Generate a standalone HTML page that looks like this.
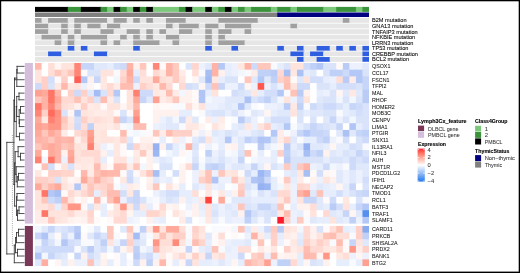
<!DOCTYPE html><html><head><meta charset="utf-8"><style>html,body{margin:0;padding:0;background:#fff;}body{width:520px;height:273px;overflow:hidden;}svg{display:block;}text{font-family:"Liberation Sans",sans-serif;} .tx{filter:grayscale(1);}</style></head><body>
<svg width="520" height="273" viewBox="0 0 520 273">
<rect x="0" y="0" width="520" height="273" fill="#fff"/>
<rect x="35.00" y="63.00" width="7.55" height="7.69" fill="#ffb8ab"/>
<rect x="41.55" y="63.00" width="7.55" height="7.69" fill="#ffffff"/>
<rect x="48.10" y="63.00" width="7.55" height="7.69" fill="#ffded7"/>
<rect x="54.65" y="63.00" width="7.55" height="7.69" fill="#fff6f4"/>
<rect x="61.20" y="63.00" width="7.55" height="7.69" fill="#ffe3dd"/>
<rect x="67.75" y="63.00" width="7.55" height="7.69" fill="#ffe3dd"/>
<rect x="74.29" y="63.00" width="7.55" height="7.69" fill="#ff8677"/>
<rect x="80.84" y="63.00" width="7.55" height="7.69" fill="#c6d5f8"/>
<rect x="87.39" y="63.00" width="7.55" height="7.69" fill="#c6d5f8"/>
<rect x="93.94" y="63.00" width="7.55" height="7.69" fill="#e0e8fb"/>
<rect x="100.49" y="63.00" width="7.55" height="7.69" fill="#e0e8fb"/>
<rect x="107.04" y="63.00" width="7.55" height="7.69" fill="#e6edfc"/>
<rect x="113.59" y="63.00" width="7.55" height="7.69" fill="#d3dffa"/>
<rect x="120.14" y="63.00" width="7.55" height="7.69" fill="#cddaf9"/>
<rect x="126.69" y="63.00" width="7.55" height="7.69" fill="#ffb3a6"/>
<rect x="133.24" y="63.00" width="7.55" height="7.69" fill="#fff1ee"/>
<rect x="139.78" y="63.00" width="7.55" height="7.69" fill="#ffc6bc"/>
<rect x="146.33" y="63.00" width="7.55" height="7.69" fill="#ffffff"/>
<rect x="152.88" y="63.00" width="7.55" height="7.69" fill="#ff8677"/>
<rect x="159.43" y="63.00" width="7.55" height="7.69" fill="#fffaf9"/>
<rect x="165.98" y="63.00" width="7.55" height="7.69" fill="#ffb3a6"/>
<rect x="172.53" y="63.00" width="7.55" height="7.69" fill="#ffcbc1"/>
<rect x="179.08" y="63.00" width="7.55" height="7.69" fill="#ffffff"/>
<rect x="185.63" y="63.00" width="7.55" height="7.69" fill="#d9e3fa"/>
<rect x="192.18" y="63.00" width="7.55" height="7.69" fill="#ffd5cc"/>
<rect x="198.73" y="63.00" width="7.55" height="7.69" fill="#ecf1fd"/>
<rect x="205.27" y="63.00" width="7.55" height="7.69" fill="#e0e8fb"/>
<rect x="211.82" y="63.00" width="7.55" height="7.69" fill="#ffb3a6"/>
<rect x="218.37" y="63.00" width="7.55" height="7.69" fill="#b3c8f6"/>
<rect x="224.92" y="63.00" width="7.55" height="7.69" fill="#e6edfc"/>
<rect x="231.47" y="63.00" width="7.55" height="7.69" fill="#ecf1fd"/>
<rect x="238.02" y="63.00" width="7.55" height="7.69" fill="#ffe8e2"/>
<rect x="244.57" y="63.00" width="7.55" height="7.69" fill="#ffb3a6"/>
<rect x="251.12" y="63.00" width="7.55" height="7.69" fill="#cddaf9"/>
<rect x="257.67" y="63.00" width="7.55" height="7.69" fill="#ffc6bc"/>
<rect x="264.22" y="63.00" width="7.55" height="7.69" fill="#ffc6bc"/>
<rect x="270.76" y="63.00" width="7.55" height="7.69" fill="#f9fafe"/>
<rect x="277.31" y="63.00" width="7.55" height="7.69" fill="#e6edfc"/>
<rect x="283.86" y="63.00" width="7.55" height="7.69" fill="#d9e3fa"/>
<rect x="290.41" y="63.00" width="7.55" height="7.69" fill="#ffe3dd"/>
<rect x="296.96" y="63.00" width="7.55" height="7.69" fill="#ffe3dd"/>
<rect x="303.51" y="63.00" width="7.55" height="7.69" fill="#cddaf9"/>
<rect x="310.06" y="63.00" width="7.55" height="7.69" fill="#c0d1f7"/>
<rect x="316.61" y="63.00" width="7.55" height="7.69" fill="#b3c8f6"/>
<rect x="323.16" y="63.00" width="7.55" height="7.69" fill="#d9e3fa"/>
<rect x="329.71" y="63.00" width="7.55" height="7.69" fill="#d9e3fa"/>
<rect x="336.25" y="63.00" width="7.55" height="7.69" fill="#fffaf9"/>
<rect x="342.80" y="63.00" width="7.55" height="7.69" fill="#baccf6"/>
<rect x="349.35" y="63.00" width="7.55" height="7.69" fill="#ecf1fd"/>
<rect x="355.90" y="63.00" width="7.55" height="7.69" fill="#ecf1fd"/>
<rect x="362.45" y="63.00" width="6.55" height="7.69" fill="#e0e8fb"/>
<rect x="35.00" y="69.69" width="7.55" height="7.69" fill="#ffe3dd"/>
<rect x="41.55" y="69.69" width="7.55" height="7.69" fill="#ffffff"/>
<rect x="48.10" y="69.69" width="7.55" height="7.69" fill="#ffded7"/>
<rect x="54.65" y="69.69" width="7.55" height="7.69" fill="#ffc6bc"/>
<rect x="61.20" y="69.69" width="7.55" height="7.69" fill="#ffd9d2"/>
<rect x="67.75" y="69.69" width="7.55" height="7.69" fill="#ffc6bc"/>
<rect x="74.29" y="69.69" width="7.55" height="7.69" fill="#ff8677"/>
<rect x="80.84" y="69.69" width="7.55" height="7.69" fill="#fffaf9"/>
<rect x="87.39" y="69.69" width="7.55" height="7.69" fill="#d9e3fa"/>
<rect x="93.94" y="69.69" width="7.55" height="7.69" fill="#d9e3fa"/>
<rect x="100.49" y="69.69" width="7.55" height="7.69" fill="#ffe3dd"/>
<rect x="107.04" y="69.69" width="7.55" height="7.69" fill="#ffe3dd"/>
<rect x="113.59" y="69.69" width="7.55" height="7.69" fill="#f9fafe"/>
<rect x="120.14" y="69.69" width="7.55" height="7.69" fill="#ffd9d2"/>
<rect x="126.69" y="69.69" width="7.55" height="7.69" fill="#ffa99b"/>
<rect x="133.24" y="69.69" width="7.55" height="7.69" fill="#e6edfc"/>
<rect x="139.78" y="69.69" width="7.55" height="7.69" fill="#ffded7"/>
<rect x="146.33" y="69.69" width="7.55" height="7.69" fill="#ffffff"/>
<rect x="152.88" y="69.69" width="7.55" height="7.69" fill="#ffd9d2"/>
<rect x="159.43" y="69.69" width="7.55" height="7.69" fill="#ffe8e2"/>
<rect x="165.98" y="69.69" width="7.55" height="7.69" fill="#ffb3a6"/>
<rect x="172.53" y="69.69" width="7.55" height="7.69" fill="#ffcbc1"/>
<rect x="179.08" y="69.69" width="7.55" height="7.69" fill="#ffece8"/>
<rect x="185.63" y="69.69" width="7.55" height="7.69" fill="#ffffff"/>
<rect x="192.18" y="69.69" width="7.55" height="7.69" fill="#ffded7"/>
<rect x="198.73" y="69.69" width="7.55" height="7.69" fill="#f9fafe"/>
<rect x="205.27" y="69.69" width="7.55" height="7.69" fill="#a8bff4"/>
<rect x="211.82" y="69.69" width="7.55" height="7.69" fill="#ffb3a6"/>
<rect x="218.37" y="69.69" width="7.55" height="7.69" fill="#fff1ee"/>
<rect x="224.92" y="69.69" width="7.55" height="7.69" fill="#e6edfc"/>
<rect x="231.47" y="69.69" width="7.55" height="7.69" fill="#ecf1fd"/>
<rect x="238.02" y="69.69" width="7.55" height="7.69" fill="#f2f6fd"/>
<rect x="244.57" y="69.69" width="7.55" height="7.69" fill="#f9fafe"/>
<rect x="251.12" y="69.69" width="7.55" height="7.69" fill="#ffece8"/>
<rect x="257.67" y="69.69" width="7.55" height="7.69" fill="#c0d1f7"/>
<rect x="264.22" y="69.69" width="7.55" height="7.69" fill="#c0d1f7"/>
<rect x="270.76" y="69.69" width="7.55" height="7.69" fill="#baccf6"/>
<rect x="277.31" y="69.69" width="7.55" height="7.69" fill="#ffd9d2"/>
<rect x="283.86" y="69.69" width="7.55" height="7.69" fill="#a8bff4"/>
<rect x="290.41" y="69.69" width="7.55" height="7.69" fill="#ffe8e2"/>
<rect x="296.96" y="69.69" width="7.55" height="7.69" fill="#acc2f5"/>
<rect x="303.51" y="69.69" width="7.55" height="7.69" fill="#e6edfc"/>
<rect x="310.06" y="69.69" width="7.55" height="7.69" fill="#e0e8fb"/>
<rect x="316.61" y="69.69" width="7.55" height="7.69" fill="#ffffff"/>
<rect x="323.16" y="69.69" width="7.55" height="7.69" fill="#d9e3fa"/>
<rect x="329.71" y="69.69" width="7.55" height="7.69" fill="#c0d1f7"/>
<rect x="336.25" y="69.69" width="7.55" height="7.69" fill="#c0d1f7"/>
<rect x="342.80" y="69.69" width="7.55" height="7.69" fill="#cddaf9"/>
<rect x="349.35" y="69.69" width="7.55" height="7.69" fill="#b3c8f6"/>
<rect x="355.90" y="69.69" width="7.55" height="7.69" fill="#b3c8f6"/>
<rect x="362.45" y="69.69" width="6.55" height="7.69" fill="#d9e3fa"/>
<rect x="35.00" y="76.38" width="7.55" height="7.69" fill="#ffe3dd"/>
<rect x="41.55" y="76.38" width="7.55" height="7.69" fill="#ffd0c7"/>
<rect x="48.10" y="76.38" width="7.55" height="7.69" fill="#d3dffa"/>
<rect x="54.65" y="76.38" width="7.55" height="7.69" fill="#fffaf9"/>
<rect x="61.20" y="76.38" width="7.55" height="7.69" fill="#ffd0c7"/>
<rect x="67.75" y="76.38" width="7.55" height="7.69" fill="#ffffff"/>
<rect x="74.29" y="76.38" width="7.55" height="7.69" fill="#ff5f54"/>
<rect x="80.84" y="76.38" width="7.55" height="7.69" fill="#b3c8f6"/>
<rect x="87.39" y="76.38" width="7.55" height="7.69" fill="#fff1ee"/>
<rect x="93.94" y="76.38" width="7.55" height="7.69" fill="#c6d5f8"/>
<rect x="100.49" y="76.38" width="7.55" height="7.69" fill="#ffe8e2"/>
<rect x="107.04" y="76.38" width="7.55" height="7.69" fill="#ffffff"/>
<rect x="113.59" y="76.38" width="7.55" height="7.69" fill="#f2f6fd"/>
<rect x="120.14" y="76.38" width="7.55" height="7.69" fill="#ffd0c7"/>
<rect x="126.69" y="76.38" width="7.55" height="7.69" fill="#ffb3a6"/>
<rect x="133.24" y="76.38" width="7.55" height="7.69" fill="#cddaf9"/>
<rect x="139.78" y="76.38" width="7.55" height="7.69" fill="#ffe3dd"/>
<rect x="146.33" y="76.38" width="7.55" height="7.69" fill="#ffe3dd"/>
<rect x="152.88" y="76.38" width="7.55" height="7.69" fill="#ffa99b"/>
<rect x="159.43" y="76.38" width="7.55" height="7.69" fill="#ffded7"/>
<rect x="165.98" y="76.38" width="7.55" height="7.69" fill="#ffe3dd"/>
<rect x="172.53" y="76.38" width="7.55" height="7.69" fill="#ffcbc1"/>
<rect x="179.08" y="76.38" width="7.55" height="7.69" fill="#ffe3dd"/>
<rect x="185.63" y="76.38" width="7.55" height="7.69" fill="#ffffff"/>
<rect x="192.18" y="76.38" width="7.55" height="7.69" fill="#fff6f4"/>
<rect x="198.73" y="76.38" width="7.55" height="7.69" fill="#e0e8fb"/>
<rect x="205.27" y="76.38" width="7.55" height="7.69" fill="#a1baf3"/>
<rect x="211.82" y="76.38" width="7.55" height="7.69" fill="#ffe8e2"/>
<rect x="218.37" y="76.38" width="7.55" height="7.69" fill="#e6edfc"/>
<rect x="224.92" y="76.38" width="7.55" height="7.69" fill="#d9e3fa"/>
<rect x="231.47" y="76.38" width="7.55" height="7.69" fill="#d9e3fa"/>
<rect x="238.02" y="76.38" width="7.55" height="7.69" fill="#ffffff"/>
<rect x="244.57" y="76.38" width="7.55" height="7.69" fill="#ffc6bc"/>
<rect x="251.12" y="76.38" width="7.55" height="7.69" fill="#e0e8fb"/>
<rect x="257.67" y="76.38" width="7.55" height="7.69" fill="#b3c8f6"/>
<rect x="264.22" y="76.38" width="7.55" height="7.69" fill="#e0e8fb"/>
<rect x="270.76" y="76.38" width="7.55" height="7.69" fill="#c0d1f7"/>
<rect x="277.31" y="76.38" width="7.55" height="7.69" fill="#ffd0c7"/>
<rect x="283.86" y="76.38" width="7.55" height="7.69" fill="#ffc2b6"/>
<rect x="290.41" y="76.38" width="7.55" height="7.69" fill="#fffaf9"/>
<rect x="296.96" y="76.38" width="7.55" height="7.69" fill="#e0e8fb"/>
<rect x="303.51" y="76.38" width="7.55" height="7.69" fill="#ffe3dd"/>
<rect x="310.06" y="76.38" width="7.55" height="7.69" fill="#d3dffa"/>
<rect x="316.61" y="76.38" width="7.55" height="7.69" fill="#d3dffa"/>
<rect x="323.16" y="76.38" width="7.55" height="7.69" fill="#e6edfc"/>
<rect x="329.71" y="76.38" width="7.55" height="7.69" fill="#ecf1fd"/>
<rect x="336.25" y="76.38" width="7.55" height="7.69" fill="#ffded7"/>
<rect x="342.80" y="76.38" width="7.55" height="7.69" fill="#baccf6"/>
<rect x="349.35" y="76.38" width="7.55" height="7.69" fill="#ffece8"/>
<rect x="355.90" y="76.38" width="7.55" height="7.69" fill="#b3c8f6"/>
<rect x="362.45" y="76.38" width="6.55" height="7.69" fill="#c6d5f8"/>
<rect x="35.00" y="83.08" width="7.55" height="7.69" fill="#cddaf9"/>
<rect x="41.55" y="83.08" width="7.55" height="7.69" fill="#ffd0c7"/>
<rect x="48.10" y="83.08" width="7.55" height="7.69" fill="#d9e3fa"/>
<rect x="54.65" y="83.08" width="7.55" height="7.69" fill="#ffe8e2"/>
<rect x="61.20" y="83.08" width="7.55" height="7.69" fill="#ffb8ab"/>
<rect x="67.75" y="83.08" width="7.55" height="7.69" fill="#ffe8e2"/>
<rect x="74.29" y="83.08" width="7.55" height="7.69" fill="#ffe3dd"/>
<rect x="80.84" y="83.08" width="7.55" height="7.69" fill="#ecf1fd"/>
<rect x="87.39" y="83.08" width="7.55" height="7.69" fill="#fff6f4"/>
<rect x="93.94" y="83.08" width="7.55" height="7.69" fill="#ffffff"/>
<rect x="100.49" y="83.08" width="7.55" height="7.69" fill="#ffe8e2"/>
<rect x="107.04" y="83.08" width="7.55" height="7.69" fill="#ffd9d2"/>
<rect x="113.59" y="83.08" width="7.55" height="7.69" fill="#ffece8"/>
<rect x="120.14" y="83.08" width="7.55" height="7.69" fill="#ffbdb1"/>
<rect x="126.69" y="83.08" width="7.55" height="7.69" fill="#ffbdb1"/>
<rect x="133.24" y="83.08" width="7.55" height="7.69" fill="#ecf1fd"/>
<rect x="139.78" y="83.08" width="7.55" height="7.69" fill="#ffd0c7"/>
<rect x="146.33" y="83.08" width="7.55" height="7.69" fill="#ffded7"/>
<rect x="152.88" y="83.08" width="7.55" height="7.69" fill="#ffe8e2"/>
<rect x="159.43" y="83.08" width="7.55" height="7.69" fill="#ffb8ab"/>
<rect x="165.98" y="83.08" width="7.55" height="7.69" fill="#ffd9d2"/>
<rect x="172.53" y="83.08" width="7.55" height="7.69" fill="#ffffff"/>
<rect x="179.08" y="83.08" width="7.55" height="7.69" fill="#ffd9d2"/>
<rect x="185.63" y="83.08" width="7.55" height="7.69" fill="#d3dffa"/>
<rect x="192.18" y="83.08" width="7.55" height="7.69" fill="#d9e3fa"/>
<rect x="198.73" y="83.08" width="7.55" height="7.69" fill="#fff6f4"/>
<rect x="205.27" y="83.08" width="7.55" height="7.69" fill="#cddaf9"/>
<rect x="211.82" y="83.08" width="7.55" height="7.69" fill="#ffc2b6"/>
<rect x="218.37" y="83.08" width="7.55" height="7.69" fill="#c6d5f8"/>
<rect x="224.92" y="83.08" width="7.55" height="7.69" fill="#ecf1fd"/>
<rect x="231.47" y="83.08" width="7.55" height="7.69" fill="#ecf1fd"/>
<rect x="238.02" y="83.08" width="7.55" height="7.69" fill="#cddaf9"/>
<rect x="244.57" y="83.08" width="7.55" height="7.69" fill="#fff6f4"/>
<rect x="251.12" y="83.08" width="7.55" height="7.69" fill="#ecf1fd"/>
<rect x="257.67" y="83.08" width="7.55" height="7.69" fill="#ff594f"/>
<rect x="264.22" y="83.08" width="7.55" height="7.69" fill="#ecf1fd"/>
<rect x="270.76" y="83.08" width="7.55" height="7.69" fill="#d9e3fa"/>
<rect x="277.31" y="83.08" width="7.55" height="7.69" fill="#ecf1fd"/>
<rect x="283.86" y="83.08" width="7.55" height="7.69" fill="#ffbdb1"/>
<rect x="290.41" y="83.08" width="7.55" height="7.69" fill="#ffe3dd"/>
<rect x="296.96" y="83.08" width="7.55" height="7.69" fill="#cddaf9"/>
<rect x="303.51" y="83.08" width="7.55" height="7.69" fill="#cddaf9"/>
<rect x="310.06" y="83.08" width="7.55" height="7.69" fill="#ffffff"/>
<rect x="316.61" y="83.08" width="7.55" height="7.69" fill="#d9e3fa"/>
<rect x="323.16" y="83.08" width="7.55" height="7.69" fill="#d9e3fa"/>
<rect x="329.71" y="83.08" width="7.55" height="7.69" fill="#e6edfc"/>
<rect x="336.25" y="83.08" width="7.55" height="7.69" fill="#d3dffa"/>
<rect x="342.80" y="83.08" width="7.55" height="7.69" fill="#d3dffa"/>
<rect x="349.35" y="83.08" width="7.55" height="7.69" fill="#d3dffa"/>
<rect x="355.90" y="83.08" width="7.55" height="7.69" fill="#d9e3fa"/>
<rect x="362.45" y="83.08" width="6.55" height="7.69" fill="#c6d5f8"/>
<rect x="35.00" y="89.77" width="7.55" height="7.69" fill="#ffa091"/>
<rect x="41.55" y="89.77" width="7.55" height="7.69" fill="#ffa99b"/>
<rect x="48.10" y="89.77" width="7.55" height="7.69" fill="#ff7667"/>
<rect x="54.65" y="89.77" width="7.55" height="7.69" fill="#ffb8ab"/>
<rect x="61.20" y="89.77" width="7.55" height="7.69" fill="#ffffff"/>
<rect x="67.75" y="89.77" width="7.55" height="7.69" fill="#ffd0c7"/>
<rect x="74.29" y="89.77" width="7.55" height="7.69" fill="#cddaf9"/>
<rect x="80.84" y="89.77" width="7.55" height="7.69" fill="#ffd0c7"/>
<rect x="87.39" y="89.77" width="7.55" height="7.69" fill="#e0e8fb"/>
<rect x="93.94" y="89.77" width="7.55" height="7.69" fill="#a5bdf4"/>
<rect x="100.49" y="89.77" width="7.55" height="7.69" fill="#d9e3fa"/>
<rect x="107.04" y="89.77" width="7.55" height="7.69" fill="#ffd9d2"/>
<rect x="113.59" y="89.77" width="7.55" height="7.69" fill="#b3c8f6"/>
<rect x="120.14" y="89.77" width="7.55" height="7.69" fill="#ffffff"/>
<rect x="126.69" y="89.77" width="7.55" height="7.69" fill="#ffe3dd"/>
<rect x="133.24" y="89.77" width="7.55" height="7.69" fill="#ff8172"/>
<rect x="139.78" y="89.77" width="7.55" height="7.69" fill="#cddaf9"/>
<rect x="146.33" y="89.77" width="7.55" height="7.69" fill="#cddaf9"/>
<rect x="152.88" y="89.77" width="7.55" height="7.69" fill="#ffe8e2"/>
<rect x="159.43" y="89.77" width="7.55" height="7.69" fill="#ffece8"/>
<rect x="165.98" y="89.77" width="7.55" height="7.69" fill="#ffbdb1"/>
<rect x="172.53" y="89.77" width="7.55" height="7.69" fill="#ffece8"/>
<rect x="179.08" y="89.77" width="7.55" height="7.69" fill="#f2f6fd"/>
<rect x="185.63" y="89.77" width="7.55" height="7.69" fill="#fff1ee"/>
<rect x="192.18" y="89.77" width="7.55" height="7.69" fill="#fffaf9"/>
<rect x="198.73" y="89.77" width="7.55" height="7.69" fill="#b0c5f5"/>
<rect x="205.27" y="89.77" width="7.55" height="7.69" fill="#e6edfc"/>
<rect x="211.82" y="89.77" width="7.55" height="7.69" fill="#ffe3dd"/>
<rect x="218.37" y="89.77" width="7.55" height="7.69" fill="#ffffff"/>
<rect x="224.92" y="89.77" width="7.55" height="7.69" fill="#ffffff"/>
<rect x="231.47" y="89.77" width="7.55" height="7.69" fill="#d3dffa"/>
<rect x="238.02" y="89.77" width="7.55" height="7.69" fill="#d9e3fa"/>
<rect x="244.57" y="89.77" width="7.55" height="7.69" fill="#e0e8fb"/>
<rect x="251.12" y="89.77" width="7.55" height="7.69" fill="#ffe8e2"/>
<rect x="257.67" y="89.77" width="7.55" height="7.69" fill="#e6edfc"/>
<rect x="264.22" y="89.77" width="7.55" height="7.69" fill="#d3dffa"/>
<rect x="270.76" y="89.77" width="7.55" height="7.69" fill="#d3dffa"/>
<rect x="277.31" y="89.77" width="7.55" height="7.69" fill="#b3c8f6"/>
<rect x="283.86" y="89.77" width="7.55" height="7.69" fill="#f9fafe"/>
<rect x="290.41" y="89.77" width="7.55" height="7.69" fill="#ffc2b6"/>
<rect x="296.96" y="89.77" width="7.55" height="7.69" fill="#baccf6"/>
<rect x="303.51" y="89.77" width="7.55" height="7.69" fill="#fff1ee"/>
<rect x="310.06" y="89.77" width="7.55" height="7.69" fill="#ffffff"/>
<rect x="316.61" y="89.77" width="7.55" height="7.69" fill="#e6edfc"/>
<rect x="323.16" y="89.77" width="7.55" height="7.69" fill="#ecf1fd"/>
<rect x="329.71" y="89.77" width="7.55" height="7.69" fill="#d9e3fa"/>
<rect x="336.25" y="89.77" width="7.55" height="7.69" fill="#fff6f4"/>
<rect x="342.80" y="89.77" width="7.55" height="7.69" fill="#e0e8fb"/>
<rect x="349.35" y="89.77" width="7.55" height="7.69" fill="#ffe8e2"/>
<rect x="355.90" y="89.77" width="7.55" height="7.69" fill="#e0e8fb"/>
<rect x="362.45" y="89.77" width="6.55" height="7.69" fill="#baccf6"/>
<rect x="35.00" y="96.46" width="7.55" height="7.69" fill="#ffc6bc"/>
<rect x="41.55" y="96.46" width="7.55" height="7.69" fill="#ffb3a6"/>
<rect x="48.10" y="96.46" width="7.55" height="7.69" fill="#ff7667"/>
<rect x="54.65" y="96.46" width="7.55" height="7.69" fill="#ffa99b"/>
<rect x="61.20" y="96.46" width="7.55" height="7.69" fill="#ffd9d2"/>
<rect x="67.75" y="96.46" width="7.55" height="7.69" fill="#ffd9d2"/>
<rect x="74.29" y="96.46" width="7.55" height="7.69" fill="#ffc2b6"/>
<rect x="80.84" y="96.46" width="7.55" height="7.69" fill="#ffe3dd"/>
<rect x="87.39" y="96.46" width="7.55" height="7.69" fill="#ffd0c7"/>
<rect x="93.94" y="96.46" width="7.55" height="7.69" fill="#d9e3fa"/>
<rect x="100.49" y="96.46" width="7.55" height="7.69" fill="#ffbdb1"/>
<rect x="107.04" y="96.46" width="7.55" height="7.69" fill="#ffece8"/>
<rect x="113.59" y="96.46" width="7.55" height="7.69" fill="#d9e3fa"/>
<rect x="120.14" y="96.46" width="7.55" height="7.69" fill="#ffffff"/>
<rect x="126.69" y="96.46" width="7.55" height="7.69" fill="#ffe3dd"/>
<rect x="133.24" y="96.46" width="7.55" height="7.69" fill="#ffa99b"/>
<rect x="139.78" y="96.46" width="7.55" height="7.69" fill="#c6d5f8"/>
<rect x="146.33" y="96.46" width="7.55" height="7.69" fill="#e0e8fb"/>
<rect x="152.88" y="96.46" width="7.55" height="7.69" fill="#ffa091"/>
<rect x="159.43" y="96.46" width="7.55" height="7.69" fill="#ffece8"/>
<rect x="165.98" y="96.46" width="7.55" height="7.69" fill="#ffe3dd"/>
<rect x="172.53" y="96.46" width="7.55" height="7.69" fill="#ffc6bc"/>
<rect x="179.08" y="96.46" width="7.55" height="7.69" fill="#fff1ee"/>
<rect x="185.63" y="96.46" width="7.55" height="7.69" fill="#fff1ee"/>
<rect x="192.18" y="96.46" width="7.55" height="7.69" fill="#fffaf9"/>
<rect x="198.73" y="96.46" width="7.55" height="7.69" fill="#b0c5f5"/>
<rect x="205.27" y="96.46" width="7.55" height="7.69" fill="#f2f6fd"/>
<rect x="211.82" y="96.46" width="7.55" height="7.69" fill="#ecf1fd"/>
<rect x="218.37" y="96.46" width="7.55" height="7.69" fill="#ecf1fd"/>
<rect x="224.92" y="96.46" width="7.55" height="7.69" fill="#e0e8fb"/>
<rect x="231.47" y="96.46" width="7.55" height="7.69" fill="#e0e8fb"/>
<rect x="238.02" y="96.46" width="7.55" height="7.69" fill="#e0e8fb"/>
<rect x="244.57" y="96.46" width="7.55" height="7.69" fill="#acc2f5"/>
<rect x="251.12" y="96.46" width="7.55" height="7.69" fill="#d9e3fa"/>
<rect x="257.67" y="96.46" width="7.55" height="7.69" fill="#cddaf9"/>
<rect x="264.22" y="96.46" width="7.55" height="7.69" fill="#c0d1f7"/>
<rect x="270.76" y="96.46" width="7.55" height="7.69" fill="#d9e3fa"/>
<rect x="277.31" y="96.46" width="7.55" height="7.69" fill="#f2f6fd"/>
<rect x="283.86" y="96.46" width="7.55" height="7.69" fill="#ffe3dd"/>
<rect x="290.41" y="96.46" width="7.55" height="7.69" fill="#ecf1fd"/>
<rect x="296.96" y="96.46" width="7.55" height="7.69" fill="#cddaf9"/>
<rect x="303.51" y="96.46" width="7.55" height="7.69" fill="#ffe3dd"/>
<rect x="310.06" y="96.46" width="7.55" height="7.69" fill="#ffffff"/>
<rect x="316.61" y="96.46" width="7.55" height="7.69" fill="#e0e8fb"/>
<rect x="323.16" y="96.46" width="7.55" height="7.69" fill="#d9e3fa"/>
<rect x="329.71" y="96.46" width="7.55" height="7.69" fill="#d9e3fa"/>
<rect x="336.25" y="96.46" width="7.55" height="7.69" fill="#f2f6fd"/>
<rect x="342.80" y="96.46" width="7.55" height="7.69" fill="#d9e3fa"/>
<rect x="349.35" y="96.46" width="7.55" height="7.69" fill="#f2f6fd"/>
<rect x="355.90" y="96.46" width="7.55" height="7.69" fill="#d9e3fa"/>
<rect x="362.45" y="96.46" width="6.55" height="7.69" fill="#baccf6"/>
<rect x="35.00" y="103.15" width="7.55" height="7.69" fill="#ff7667"/>
<rect x="41.55" y="103.15" width="7.55" height="7.69" fill="#ffb3a6"/>
<rect x="48.10" y="103.15" width="7.55" height="7.69" fill="#ff8677"/>
<rect x="54.65" y="103.15" width="7.55" height="7.69" fill="#ffb8ab"/>
<rect x="61.20" y="103.15" width="7.55" height="7.69" fill="#ffded7"/>
<rect x="67.75" y="103.15" width="7.55" height="7.69" fill="#ffe3dd"/>
<rect x="74.29" y="103.15" width="7.55" height="7.69" fill="#fff1ee"/>
<rect x="80.84" y="103.15" width="7.55" height="7.69" fill="#ffd0c7"/>
<rect x="87.39" y="103.15" width="7.55" height="7.69" fill="#ffece8"/>
<rect x="93.94" y="103.15" width="7.55" height="7.69" fill="#ffe8e2"/>
<rect x="100.49" y="103.15" width="7.55" height="7.69" fill="#fffaf9"/>
<rect x="107.04" y="103.15" width="7.55" height="7.69" fill="#ffe3dd"/>
<rect x="113.59" y="103.15" width="7.55" height="7.69" fill="#ffe3dd"/>
<rect x="120.14" y="103.15" width="7.55" height="7.69" fill="#fff6f4"/>
<rect x="126.69" y="103.15" width="7.55" height="7.69" fill="#ffe3dd"/>
<rect x="133.24" y="103.15" width="7.55" height="7.69" fill="#ffb8ab"/>
<rect x="139.78" y="103.15" width="7.55" height="7.69" fill="#ffffff"/>
<rect x="146.33" y="103.15" width="7.55" height="7.69" fill="#ffffff"/>
<rect x="152.88" y="103.15" width="7.55" height="7.69" fill="#fff6f4"/>
<rect x="159.43" y="103.15" width="7.55" height="7.69" fill="#fffaf9"/>
<rect x="165.98" y="103.15" width="7.55" height="7.69" fill="#fffaf9"/>
<rect x="172.53" y="103.15" width="7.55" height="7.69" fill="#f9fafe"/>
<rect x="179.08" y="103.15" width="7.55" height="7.69" fill="#f9fafe"/>
<rect x="185.63" y="103.15" width="7.55" height="7.69" fill="#ffded7"/>
<rect x="192.18" y="103.15" width="7.55" height="7.69" fill="#fff6f4"/>
<rect x="198.73" y="103.15" width="7.55" height="7.69" fill="#ffe3dd"/>
<rect x="205.27" y="103.15" width="7.55" height="7.69" fill="#ecf1fd"/>
<rect x="211.82" y="103.15" width="7.55" height="7.69" fill="#ecf1fd"/>
<rect x="218.37" y="103.15" width="7.55" height="7.69" fill="#e6edfc"/>
<rect x="224.92" y="103.15" width="7.55" height="7.69" fill="#e0e8fb"/>
<rect x="231.47" y="103.15" width="7.55" height="7.69" fill="#e6edfc"/>
<rect x="238.02" y="103.15" width="7.55" height="7.69" fill="#b0c5f5"/>
<rect x="244.57" y="103.15" width="7.55" height="7.69" fill="#e0e8fb"/>
<rect x="251.12" y="103.15" width="7.55" height="7.69" fill="#f9fafe"/>
<rect x="257.67" y="103.15" width="7.55" height="7.69" fill="#ffffff"/>
<rect x="264.22" y="103.15" width="7.55" height="7.69" fill="#ecf1fd"/>
<rect x="270.76" y="103.15" width="7.55" height="7.69" fill="#ecf1fd"/>
<rect x="277.31" y="103.15" width="7.55" height="7.69" fill="#e6edfc"/>
<rect x="283.86" y="103.15" width="7.55" height="7.69" fill="#baccf6"/>
<rect x="290.41" y="103.15" width="7.55" height="7.69" fill="#ffe8e2"/>
<rect x="296.96" y="103.15" width="7.55" height="7.69" fill="#c0d1f7"/>
<rect x="303.51" y="103.15" width="7.55" height="7.69" fill="#f9fafe"/>
<rect x="310.06" y="103.15" width="7.55" height="7.69" fill="#cddaf9"/>
<rect x="316.61" y="103.15" width="7.55" height="7.69" fill="#d9e3fa"/>
<rect x="323.16" y="103.15" width="7.55" height="7.69" fill="#cddaf9"/>
<rect x="329.71" y="103.15" width="7.55" height="7.69" fill="#cddaf9"/>
<rect x="336.25" y="103.15" width="7.55" height="7.69" fill="#d9e3fa"/>
<rect x="342.80" y="103.15" width="7.55" height="7.69" fill="#e6edfc"/>
<rect x="349.35" y="103.15" width="7.55" height="7.69" fill="#c6d5f8"/>
<rect x="355.90" y="103.15" width="7.55" height="7.69" fill="#cddaf9"/>
<rect x="362.45" y="103.15" width="6.55" height="7.69" fill="#d9e3fa"/>
<rect x="35.00" y="109.84" width="7.55" height="7.69" fill="#ff8677"/>
<rect x="41.55" y="109.84" width="7.55" height="7.69" fill="#ffd0c7"/>
<rect x="48.10" y="109.84" width="7.55" height="7.69" fill="#ff6b5d"/>
<rect x="54.65" y="109.84" width="7.55" height="7.69" fill="#ff9181"/>
<rect x="61.20" y="109.84" width="7.55" height="7.69" fill="#d9e3fa"/>
<rect x="67.75" y="109.84" width="7.55" height="7.69" fill="#fff6f4"/>
<rect x="74.29" y="109.84" width="7.55" height="7.69" fill="#b0c5f5"/>
<rect x="80.84" y="109.84" width="7.55" height="7.69" fill="#ffe3dd"/>
<rect x="87.39" y="109.84" width="7.55" height="7.69" fill="#ffe8e2"/>
<rect x="93.94" y="109.84" width="7.55" height="7.69" fill="#ffece8"/>
<rect x="100.49" y="109.84" width="7.55" height="7.69" fill="#ffece8"/>
<rect x="107.04" y="109.84" width="7.55" height="7.69" fill="#ffe8e2"/>
<rect x="113.59" y="109.84" width="7.55" height="7.69" fill="#fffaf9"/>
<rect x="120.14" y="109.84" width="7.55" height="7.69" fill="#d9e3fa"/>
<rect x="126.69" y="109.84" width="7.55" height="7.69" fill="#fffaf9"/>
<rect x="133.24" y="109.84" width="7.55" height="7.69" fill="#ffa091"/>
<rect x="139.78" y="109.84" width="7.55" height="7.69" fill="#ffffff"/>
<rect x="146.33" y="109.84" width="7.55" height="7.69" fill="#ffffff"/>
<rect x="152.88" y="109.84" width="7.55" height="7.69" fill="#fff1ee"/>
<rect x="159.43" y="109.84" width="7.55" height="7.69" fill="#fff1ee"/>
<rect x="165.98" y="109.84" width="7.55" height="7.69" fill="#fff1ee"/>
<rect x="172.53" y="109.84" width="7.55" height="7.69" fill="#fff1ee"/>
<rect x="179.08" y="109.84" width="7.55" height="7.69" fill="#e6edfc"/>
<rect x="185.63" y="109.84" width="7.55" height="7.69" fill="#e6edfc"/>
<rect x="192.18" y="109.84" width="7.55" height="7.69" fill="#ffffff"/>
<rect x="198.73" y="109.84" width="7.55" height="7.69" fill="#f9fafe"/>
<rect x="205.27" y="109.84" width="7.55" height="7.69" fill="#e0e8fb"/>
<rect x="211.82" y="109.84" width="7.55" height="7.69" fill="#d9e3fa"/>
<rect x="218.37" y="109.84" width="7.55" height="7.69" fill="#d9e3fa"/>
<rect x="224.92" y="109.84" width="7.55" height="7.69" fill="#e6edfc"/>
<rect x="231.47" y="109.84" width="7.55" height="7.69" fill="#d9e3fa"/>
<rect x="238.02" y="109.84" width="7.55" height="7.69" fill="#ecf1fd"/>
<rect x="244.57" y="109.84" width="7.55" height="7.69" fill="#f9fafe"/>
<rect x="251.12" y="109.84" width="7.55" height="7.69" fill="#e0e8fb"/>
<rect x="257.67" y="109.84" width="7.55" height="7.69" fill="#e6edfc"/>
<rect x="264.22" y="109.84" width="7.55" height="7.69" fill="#fff6f4"/>
<rect x="270.76" y="109.84" width="7.55" height="7.69" fill="#e6edfc"/>
<rect x="277.31" y="109.84" width="7.55" height="7.69" fill="#e0e8fb"/>
<rect x="283.86" y="109.84" width="7.55" height="7.69" fill="#e0e8fb"/>
<rect x="290.41" y="109.84" width="7.55" height="7.69" fill="#ffe3dd"/>
<rect x="296.96" y="109.84" width="7.55" height="7.69" fill="#d9e3fa"/>
<rect x="303.51" y="109.84" width="7.55" height="7.69" fill="#e6edfc"/>
<rect x="310.06" y="109.84" width="7.55" height="7.69" fill="#e0e8fb"/>
<rect x="316.61" y="109.84" width="7.55" height="7.69" fill="#e0e8fb"/>
<rect x="323.16" y="109.84" width="7.55" height="7.69" fill="#d9e3fa"/>
<rect x="329.71" y="109.84" width="7.55" height="7.69" fill="#d9e3fa"/>
<rect x="336.25" y="109.84" width="7.55" height="7.69" fill="#f9fafe"/>
<rect x="342.80" y="109.84" width="7.55" height="7.69" fill="#e6edfc"/>
<rect x="349.35" y="109.84" width="7.55" height="7.69" fill="#e0e8fb"/>
<rect x="355.90" y="109.84" width="7.55" height="7.69" fill="#d3dffa"/>
<rect x="362.45" y="109.84" width="6.55" height="7.69" fill="#d9e3fa"/>
<rect x="35.00" y="116.53" width="7.55" height="7.69" fill="#ffa99b"/>
<rect x="41.55" y="116.53" width="7.55" height="7.69" fill="#ffe8e2"/>
<rect x="48.10" y="116.53" width="7.55" height="7.69" fill="#ff8172"/>
<rect x="54.65" y="116.53" width="7.55" height="7.69" fill="#ff9686"/>
<rect x="61.20" y="116.53" width="7.55" height="7.69" fill="#ffc6bc"/>
<rect x="67.75" y="116.53" width="7.55" height="7.69" fill="#ffe8e2"/>
<rect x="74.29" y="116.53" width="7.55" height="7.69" fill="#d3dffa"/>
<rect x="80.84" y="116.53" width="7.55" height="7.69" fill="#ffd0c7"/>
<rect x="87.39" y="116.53" width="7.55" height="7.69" fill="#ffe3dd"/>
<rect x="93.94" y="116.53" width="7.55" height="7.69" fill="#ffded7"/>
<rect x="100.49" y="116.53" width="7.55" height="7.69" fill="#ffe3dd"/>
<rect x="107.04" y="116.53" width="7.55" height="7.69" fill="#ffe8e2"/>
<rect x="113.59" y="116.53" width="7.55" height="7.69" fill="#ffc2b6"/>
<rect x="120.14" y="116.53" width="7.55" height="7.69" fill="#c6d5f8"/>
<rect x="126.69" y="116.53" width="7.55" height="7.69" fill="#d9e3fa"/>
<rect x="133.24" y="116.53" width="7.55" height="7.69" fill="#ff8b7c"/>
<rect x="139.78" y="116.53" width="7.55" height="7.69" fill="#ffffff"/>
<rect x="146.33" y="116.53" width="7.55" height="7.69" fill="#ffffff"/>
<rect x="152.88" y="116.53" width="7.55" height="7.69" fill="#fff1ee"/>
<rect x="159.43" y="116.53" width="7.55" height="7.69" fill="#ecf1fd"/>
<rect x="165.98" y="116.53" width="7.55" height="7.69" fill="#e0e8fb"/>
<rect x="172.53" y="116.53" width="7.55" height="7.69" fill="#f2f6fd"/>
<rect x="179.08" y="116.53" width="7.55" height="7.69" fill="#cddaf9"/>
<rect x="185.63" y="116.53" width="7.55" height="7.69" fill="#ffece8"/>
<rect x="192.18" y="116.53" width="7.55" height="7.69" fill="#e0e8fb"/>
<rect x="198.73" y="116.53" width="7.55" height="7.69" fill="#ffffff"/>
<rect x="205.27" y="116.53" width="7.55" height="7.69" fill="#ffece8"/>
<rect x="211.82" y="116.53" width="7.55" height="7.69" fill="#ecf1fd"/>
<rect x="218.37" y="116.53" width="7.55" height="7.69" fill="#ffece8"/>
<rect x="224.92" y="116.53" width="7.55" height="7.69" fill="#ffffff"/>
<rect x="231.47" y="116.53" width="7.55" height="7.69" fill="#f9fafe"/>
<rect x="238.02" y="116.53" width="7.55" height="7.69" fill="#baccf6"/>
<rect x="244.57" y="116.53" width="7.55" height="7.69" fill="#d9e3fa"/>
<rect x="251.12" y="116.53" width="7.55" height="7.69" fill="#ecf1fd"/>
<rect x="257.67" y="116.53" width="7.55" height="7.69" fill="#ffffff"/>
<rect x="264.22" y="116.53" width="7.55" height="7.69" fill="#e6edfc"/>
<rect x="270.76" y="116.53" width="7.55" height="7.69" fill="#d3dffa"/>
<rect x="277.31" y="116.53" width="7.55" height="7.69" fill="#d3dffa"/>
<rect x="283.86" y="116.53" width="7.55" height="7.69" fill="#d3dffa"/>
<rect x="290.41" y="116.53" width="7.55" height="7.69" fill="#ffffff"/>
<rect x="296.96" y="116.53" width="7.55" height="7.69" fill="#d9e3fa"/>
<rect x="303.51" y="116.53" width="7.55" height="7.69" fill="#ffffff"/>
<rect x="310.06" y="116.53" width="7.55" height="7.69" fill="#d9e3fa"/>
<rect x="316.61" y="116.53" width="7.55" height="7.69" fill="#ffffff"/>
<rect x="323.16" y="116.53" width="7.55" height="7.69" fill="#e0e8fb"/>
<rect x="329.71" y="116.53" width="7.55" height="7.69" fill="#c6d5f8"/>
<rect x="336.25" y="116.53" width="7.55" height="7.69" fill="#ecf1fd"/>
<rect x="342.80" y="116.53" width="7.55" height="7.69" fill="#d9e3fa"/>
<rect x="349.35" y="116.53" width="7.55" height="7.69" fill="#f2f6fd"/>
<rect x="355.90" y="116.53" width="7.55" height="7.69" fill="#d9e3fa"/>
<rect x="362.45" y="116.53" width="6.55" height="7.69" fill="#d9e3fa"/>
<rect x="35.00" y="123.22" width="7.55" height="7.69" fill="#ffa091"/>
<rect x="41.55" y="123.22" width="7.55" height="7.69" fill="#ffa99b"/>
<rect x="48.10" y="123.22" width="7.55" height="7.69" fill="#ff9686"/>
<rect x="54.65" y="123.22" width="7.55" height="7.69" fill="#ff9686"/>
<rect x="61.20" y="123.22" width="7.55" height="7.69" fill="#ffd0c7"/>
<rect x="67.75" y="123.22" width="7.55" height="7.69" fill="#ffe3dd"/>
<rect x="74.29" y="123.22" width="7.55" height="7.69" fill="#cddaf9"/>
<rect x="80.84" y="123.22" width="7.55" height="7.69" fill="#ffded7"/>
<rect x="87.39" y="123.22" width="7.55" height="7.69" fill="#c0d1f7"/>
<rect x="93.94" y="123.22" width="7.55" height="7.69" fill="#ffe8e2"/>
<rect x="100.49" y="123.22" width="7.55" height="7.69" fill="#ffe8e2"/>
<rect x="107.04" y="123.22" width="7.55" height="7.69" fill="#ffece8"/>
<rect x="113.59" y="123.22" width="7.55" height="7.69" fill="#ffe3dd"/>
<rect x="120.14" y="123.22" width="7.55" height="7.69" fill="#f9fafe"/>
<rect x="126.69" y="123.22" width="7.55" height="7.69" fill="#f2f6fd"/>
<rect x="133.24" y="123.22" width="7.55" height="7.69" fill="#ffbdb1"/>
<rect x="139.78" y="123.22" width="7.55" height="7.69" fill="#ffbdb1"/>
<rect x="146.33" y="123.22" width="7.55" height="7.69" fill="#ffffff"/>
<rect x="152.88" y="123.22" width="7.55" height="7.69" fill="#ecf1fd"/>
<rect x="159.43" y="123.22" width="7.55" height="7.69" fill="#e6edfc"/>
<rect x="165.98" y="123.22" width="7.55" height="7.69" fill="#e0e8fb"/>
<rect x="172.53" y="123.22" width="7.55" height="7.69" fill="#e0e8fb"/>
<rect x="179.08" y="123.22" width="7.55" height="7.69" fill="#f9fafe"/>
<rect x="185.63" y="123.22" width="7.55" height="7.69" fill="#ffe8e2"/>
<rect x="192.18" y="123.22" width="7.55" height="7.69" fill="#ffe8e2"/>
<rect x="198.73" y="123.22" width="7.55" height="7.69" fill="#fff6f4"/>
<rect x="205.27" y="123.22" width="7.55" height="7.69" fill="#ffffff"/>
<rect x="211.82" y="123.22" width="7.55" height="7.69" fill="#ffe3dd"/>
<rect x="218.37" y="123.22" width="7.55" height="7.69" fill="#fff1ee"/>
<rect x="224.92" y="123.22" width="7.55" height="7.69" fill="#ffffff"/>
<rect x="231.47" y="123.22" width="7.55" height="7.69" fill="#e6edfc"/>
<rect x="238.02" y="123.22" width="7.55" height="7.69" fill="#e0e8fb"/>
<rect x="244.57" y="123.22" width="7.55" height="7.69" fill="#ffe8e2"/>
<rect x="251.12" y="123.22" width="7.55" height="7.69" fill="#ecf1fd"/>
<rect x="257.67" y="123.22" width="7.55" height="7.69" fill="#ffe3dd"/>
<rect x="264.22" y="123.22" width="7.55" height="7.69" fill="#ffd0c7"/>
<rect x="270.76" y="123.22" width="7.55" height="7.69" fill="#e6edfc"/>
<rect x="277.31" y="123.22" width="7.55" height="7.69" fill="#e0e8fb"/>
<rect x="283.86" y="123.22" width="7.55" height="7.69" fill="#b3c8f6"/>
<rect x="290.41" y="123.22" width="7.55" height="7.69" fill="#f9fafe"/>
<rect x="296.96" y="123.22" width="7.55" height="7.69" fill="#e6edfc"/>
<rect x="303.51" y="123.22" width="7.55" height="7.69" fill="#d9e3fa"/>
<rect x="310.06" y="123.22" width="7.55" height="7.69" fill="#c6d5f8"/>
<rect x="316.61" y="123.22" width="7.55" height="7.69" fill="#d3dffa"/>
<rect x="323.16" y="123.22" width="7.55" height="7.69" fill="#d9e3fa"/>
<rect x="329.71" y="123.22" width="7.55" height="7.69" fill="#e0e8fb"/>
<rect x="336.25" y="123.22" width="7.55" height="7.69" fill="#c6d5f8"/>
<rect x="342.80" y="123.22" width="7.55" height="7.69" fill="#ffffff"/>
<rect x="349.35" y="123.22" width="7.55" height="7.69" fill="#b0c5f5"/>
<rect x="355.90" y="123.22" width="7.55" height="7.69" fill="#e6edfc"/>
<rect x="362.45" y="123.22" width="6.55" height="7.69" fill="#d9e3fa"/>
<rect x="35.00" y="129.92" width="7.55" height="7.69" fill="#ffa99b"/>
<rect x="41.55" y="129.92" width="7.55" height="7.69" fill="#ffc6bc"/>
<rect x="48.10" y="129.92" width="7.55" height="7.69" fill="#ffa99b"/>
<rect x="54.65" y="129.92" width="7.55" height="7.69" fill="#ffb8ab"/>
<rect x="61.20" y="129.92" width="7.55" height="7.69" fill="#ffece8"/>
<rect x="67.75" y="129.92" width="7.55" height="7.69" fill="#ffffff"/>
<rect x="74.29" y="129.92" width="7.55" height="7.69" fill="#ffd9d2"/>
<rect x="80.84" y="129.92" width="7.55" height="7.69" fill="#ffd0c7"/>
<rect x="87.39" y="129.92" width="7.55" height="7.69" fill="#ffa091"/>
<rect x="93.94" y="129.92" width="7.55" height="7.69" fill="#ffe8e2"/>
<rect x="100.49" y="129.92" width="7.55" height="7.69" fill="#ffe3dd"/>
<rect x="107.04" y="129.92" width="7.55" height="7.69" fill="#ffffff"/>
<rect x="113.59" y="129.92" width="7.55" height="7.69" fill="#ffffff"/>
<rect x="120.14" y="129.92" width="7.55" height="7.69" fill="#ffbdb1"/>
<rect x="126.69" y="129.92" width="7.55" height="7.69" fill="#f9fafe"/>
<rect x="133.24" y="129.92" width="7.55" height="7.69" fill="#f2f6fd"/>
<rect x="139.78" y="129.92" width="7.55" height="7.69" fill="#f9fafe"/>
<rect x="146.33" y="129.92" width="7.55" height="7.69" fill="#fffaf9"/>
<rect x="152.88" y="129.92" width="7.55" height="7.69" fill="#ffc6bc"/>
<rect x="159.43" y="129.92" width="7.55" height="7.69" fill="#ffece8"/>
<rect x="165.98" y="129.92" width="7.55" height="7.69" fill="#ffbdb1"/>
<rect x="172.53" y="129.92" width="7.55" height="7.69" fill="#ffd0c7"/>
<rect x="179.08" y="129.92" width="7.55" height="7.69" fill="#ffd0c7"/>
<rect x="185.63" y="129.92" width="7.55" height="7.69" fill="#ffd0c7"/>
<rect x="192.18" y="129.92" width="7.55" height="7.69" fill="#fff6f4"/>
<rect x="198.73" y="129.92" width="7.55" height="7.69" fill="#ecf1fd"/>
<rect x="205.27" y="129.92" width="7.55" height="7.69" fill="#fff6f4"/>
<rect x="211.82" y="129.92" width="7.55" height="7.69" fill="#e0e8fb"/>
<rect x="218.37" y="129.92" width="7.55" height="7.69" fill="#e6edfc"/>
<rect x="224.92" y="129.92" width="7.55" height="7.69" fill="#d9e3fa"/>
<rect x="231.47" y="129.92" width="7.55" height="7.69" fill="#e0e8fb"/>
<rect x="238.02" y="129.92" width="7.55" height="7.69" fill="#ecf1fd"/>
<rect x="244.57" y="129.92" width="7.55" height="7.69" fill="#ecf1fd"/>
<rect x="251.12" y="129.92" width="7.55" height="7.69" fill="#e0e8fb"/>
<rect x="257.67" y="129.92" width="7.55" height="7.69" fill="#d9e3fa"/>
<rect x="264.22" y="129.92" width="7.55" height="7.69" fill="#ffffff"/>
<rect x="270.76" y="129.92" width="7.55" height="7.69" fill="#b3c8f6"/>
<rect x="277.31" y="129.92" width="7.55" height="7.69" fill="#ffece8"/>
<rect x="283.86" y="129.92" width="7.55" height="7.69" fill="#f9fafe"/>
<rect x="290.41" y="129.92" width="7.55" height="7.69" fill="#ecf1fd"/>
<rect x="296.96" y="129.92" width="7.55" height="7.69" fill="#c6d5f8"/>
<rect x="303.51" y="129.92" width="7.55" height="7.69" fill="#b3c8f6"/>
<rect x="310.06" y="129.92" width="7.55" height="7.69" fill="#c6d5f8"/>
<rect x="316.61" y="129.92" width="7.55" height="7.69" fill="#c6d5f8"/>
<rect x="323.16" y="129.92" width="7.55" height="7.69" fill="#cddaf9"/>
<rect x="329.71" y="129.92" width="7.55" height="7.69" fill="#ffffff"/>
<rect x="336.25" y="129.92" width="7.55" height="7.69" fill="#e0e8fb"/>
<rect x="342.80" y="129.92" width="7.55" height="7.69" fill="#acc2f5"/>
<rect x="349.35" y="129.92" width="7.55" height="7.69" fill="#e0e8fb"/>
<rect x="355.90" y="129.92" width="7.55" height="7.69" fill="#c6d5f8"/>
<rect x="362.45" y="129.92" width="6.55" height="7.69" fill="#c0d1f7"/>
<rect x="35.00" y="136.61" width="7.55" height="7.69" fill="#ffb3a6"/>
<rect x="41.55" y="136.61" width="7.55" height="7.69" fill="#ffb8ab"/>
<rect x="48.10" y="136.61" width="7.55" height="7.69" fill="#ffc6bc"/>
<rect x="54.65" y="136.61" width="7.55" height="7.69" fill="#ffb3a6"/>
<rect x="61.20" y="136.61" width="7.55" height="7.69" fill="#ffb8ab"/>
<rect x="67.75" y="136.61" width="7.55" height="7.69" fill="#ffb3a6"/>
<rect x="74.29" y="136.61" width="7.55" height="7.69" fill="#fff1ee"/>
<rect x="80.84" y="136.61" width="7.55" height="7.69" fill="#ffd9d2"/>
<rect x="87.39" y="136.61" width="7.55" height="7.69" fill="#ff9686"/>
<rect x="93.94" y="136.61" width="7.55" height="7.69" fill="#ffe8e2"/>
<rect x="100.49" y="136.61" width="7.55" height="7.69" fill="#ffe3dd"/>
<rect x="107.04" y="136.61" width="7.55" height="7.69" fill="#ffe3dd"/>
<rect x="113.59" y="136.61" width="7.55" height="7.69" fill="#ffe8e2"/>
<rect x="120.14" y="136.61" width="7.55" height="7.69" fill="#ffd5cc"/>
<rect x="126.69" y="136.61" width="7.55" height="7.69" fill="#e0e8fb"/>
<rect x="133.24" y="136.61" width="7.55" height="7.69" fill="#ffffff"/>
<rect x="139.78" y="136.61" width="7.55" height="7.69" fill="#fff1ee"/>
<rect x="146.33" y="136.61" width="7.55" height="7.69" fill="#fff1ee"/>
<rect x="152.88" y="136.61" width="7.55" height="7.69" fill="#fffaf9"/>
<rect x="159.43" y="136.61" width="7.55" height="7.69" fill="#e6edfc"/>
<rect x="165.98" y="136.61" width="7.55" height="7.69" fill="#ffffff"/>
<rect x="172.53" y="136.61" width="7.55" height="7.69" fill="#ffece8"/>
<rect x="179.08" y="136.61" width="7.55" height="7.69" fill="#ecf1fd"/>
<rect x="185.63" y="136.61" width="7.55" height="7.69" fill="#fffaf9"/>
<rect x="192.18" y="136.61" width="7.55" height="7.69" fill="#e0e8fb"/>
<rect x="198.73" y="136.61" width="7.55" height="7.69" fill="#d3dffa"/>
<rect x="205.27" y="136.61" width="7.55" height="7.69" fill="#ffe3dd"/>
<rect x="211.82" y="136.61" width="7.55" height="7.69" fill="#ecf1fd"/>
<rect x="218.37" y="136.61" width="7.55" height="7.69" fill="#e6edfc"/>
<rect x="224.92" y="136.61" width="7.55" height="7.69" fill="#b3c8f6"/>
<rect x="231.47" y="136.61" width="7.55" height="7.69" fill="#ecf1fd"/>
<rect x="238.02" y="136.61" width="7.55" height="7.69" fill="#e0e8fb"/>
<rect x="244.57" y="136.61" width="7.55" height="7.69" fill="#c0d1f7"/>
<rect x="251.12" y="136.61" width="7.55" height="7.69" fill="#cddaf9"/>
<rect x="257.67" y="136.61" width="7.55" height="7.69" fill="#b0c5f5"/>
<rect x="264.22" y="136.61" width="7.55" height="7.69" fill="#b3c8f6"/>
<rect x="270.76" y="136.61" width="7.55" height="7.69" fill="#d9e3fa"/>
<rect x="277.31" y="136.61" width="7.55" height="7.69" fill="#ffece8"/>
<rect x="283.86" y="136.61" width="7.55" height="7.69" fill="#ffd5cc"/>
<rect x="290.41" y="136.61" width="7.55" height="7.69" fill="#e0e8fb"/>
<rect x="296.96" y="136.61" width="7.55" height="7.69" fill="#f9fafe"/>
<rect x="303.51" y="136.61" width="7.55" height="7.69" fill="#e6edfc"/>
<rect x="310.06" y="136.61" width="7.55" height="7.69" fill="#e6edfc"/>
<rect x="316.61" y="136.61" width="7.55" height="7.69" fill="#cddaf9"/>
<rect x="323.16" y="136.61" width="7.55" height="7.69" fill="#c0d1f7"/>
<rect x="329.71" y="136.61" width="7.55" height="7.69" fill="#ecf1fd"/>
<rect x="336.25" y="136.61" width="7.55" height="7.69" fill="#f9fafe"/>
<rect x="342.80" y="136.61" width="7.55" height="7.69" fill="#d3dffa"/>
<rect x="349.35" y="136.61" width="7.55" height="7.69" fill="#ffffff"/>
<rect x="355.90" y="136.61" width="7.55" height="7.69" fill="#d9e3fa"/>
<rect x="362.45" y="136.61" width="6.55" height="7.69" fill="#cddaf9"/>
<rect x="35.00" y="143.30" width="7.55" height="7.69" fill="#ffc6bc"/>
<rect x="41.55" y="143.30" width="7.55" height="7.69" fill="#ffb3a6"/>
<rect x="48.10" y="143.30" width="7.55" height="7.69" fill="#ffa99b"/>
<rect x="54.65" y="143.30" width="7.55" height="7.69" fill="#ffb3a6"/>
<rect x="61.20" y="143.30" width="7.55" height="7.69" fill="#ffc6bc"/>
<rect x="67.75" y="143.30" width="7.55" height="7.69" fill="#ffbdb1"/>
<rect x="74.29" y="143.30" width="7.55" height="7.69" fill="#ffe3dd"/>
<rect x="80.84" y="143.30" width="7.55" height="7.69" fill="#ffe8e2"/>
<rect x="87.39" y="143.30" width="7.55" height="7.69" fill="#ff8172"/>
<rect x="93.94" y="143.30" width="7.55" height="7.69" fill="#ffe3dd"/>
<rect x="100.49" y="143.30" width="7.55" height="7.69" fill="#ecf1fd"/>
<rect x="107.04" y="143.30" width="7.55" height="7.69" fill="#f9fafe"/>
<rect x="113.59" y="143.30" width="7.55" height="7.69" fill="#ffe8e2"/>
<rect x="120.14" y="143.30" width="7.55" height="7.69" fill="#fffaf9"/>
<rect x="126.69" y="143.30" width="7.55" height="7.69" fill="#cddaf9"/>
<rect x="133.24" y="143.30" width="7.55" height="7.69" fill="#ffd5cc"/>
<rect x="139.78" y="143.30" width="7.55" height="7.69" fill="#ffece8"/>
<rect x="146.33" y="143.30" width="7.55" height="7.69" fill="#ffe8e2"/>
<rect x="152.88" y="143.30" width="7.55" height="7.69" fill="#96b2f2"/>
<rect x="159.43" y="143.30" width="7.55" height="7.69" fill="#fff1ee"/>
<rect x="165.98" y="143.30" width="7.55" height="7.69" fill="#c6d5f8"/>
<rect x="172.53" y="143.30" width="7.55" height="7.69" fill="#e6edfc"/>
<rect x="179.08" y="143.30" width="7.55" height="7.69" fill="#f2f6fd"/>
<rect x="185.63" y="143.30" width="7.55" height="7.69" fill="#ffb3a6"/>
<rect x="192.18" y="143.30" width="7.55" height="7.69" fill="#d9e3fa"/>
<rect x="198.73" y="143.30" width="7.55" height="7.69" fill="#fffaf9"/>
<rect x="205.27" y="143.30" width="7.55" height="7.69" fill="#ecf1fd"/>
<rect x="211.82" y="143.30" width="7.55" height="7.69" fill="#f9fafe"/>
<rect x="218.37" y="143.30" width="7.55" height="7.69" fill="#e6edfc"/>
<rect x="224.92" y="143.30" width="7.55" height="7.69" fill="#fff6f4"/>
<rect x="231.47" y="143.30" width="7.55" height="7.69" fill="#fff1ee"/>
<rect x="238.02" y="143.30" width="7.55" height="7.69" fill="#e0e8fb"/>
<rect x="244.57" y="143.30" width="7.55" height="7.69" fill="#ffffff"/>
<rect x="251.12" y="143.30" width="7.55" height="7.69" fill="#ffffff"/>
<rect x="257.67" y="143.30" width="7.55" height="7.69" fill="#baccf6"/>
<rect x="264.22" y="143.30" width="7.55" height="7.69" fill="#e6edfc"/>
<rect x="270.76" y="143.30" width="7.55" height="7.69" fill="#f2f6fd"/>
<rect x="277.31" y="143.30" width="7.55" height="7.69" fill="#fff6f4"/>
<rect x="283.86" y="143.30" width="7.55" height="7.69" fill="#baccf6"/>
<rect x="290.41" y="143.30" width="7.55" height="7.69" fill="#e6edfc"/>
<rect x="296.96" y="143.30" width="7.55" height="7.69" fill="#d9e3fa"/>
<rect x="303.51" y="143.30" width="7.55" height="7.69" fill="#96b2f2"/>
<rect x="310.06" y="143.30" width="7.55" height="7.69" fill="#e0e8fb"/>
<rect x="316.61" y="143.30" width="7.55" height="7.69" fill="#e0e8fb"/>
<rect x="323.16" y="143.30" width="7.55" height="7.69" fill="#e6edfc"/>
<rect x="329.71" y="143.30" width="7.55" height="7.69" fill="#fff6f4"/>
<rect x="336.25" y="143.30" width="7.55" height="7.69" fill="#e6edfc"/>
<rect x="342.80" y="143.30" width="7.55" height="7.69" fill="#e6edfc"/>
<rect x="349.35" y="143.30" width="7.55" height="7.69" fill="#d3dffa"/>
<rect x="355.90" y="143.30" width="7.55" height="7.69" fill="#d9e3fa"/>
<rect x="362.45" y="143.30" width="6.55" height="7.69" fill="#f9fafe"/>
<rect x="35.00" y="149.99" width="7.55" height="7.69" fill="#ffa99b"/>
<rect x="41.55" y="149.99" width="7.55" height="7.69" fill="#ffffff"/>
<rect x="48.10" y="149.99" width="7.55" height="7.69" fill="#ffa99b"/>
<rect x="54.65" y="149.99" width="7.55" height="7.69" fill="#ffb3a6"/>
<rect x="61.20" y="149.99" width="7.55" height="7.69" fill="#fff1ee"/>
<rect x="67.75" y="149.99" width="7.55" height="7.69" fill="#ffa99b"/>
<rect x="74.29" y="149.99" width="7.55" height="7.69" fill="#ffe3dd"/>
<rect x="80.84" y="149.99" width="7.55" height="7.69" fill="#ffd9d2"/>
<rect x="87.39" y="149.99" width="7.55" height="7.69" fill="#ffd9d2"/>
<rect x="93.94" y="149.99" width="7.55" height="7.69" fill="#ffd9d2"/>
<rect x="100.49" y="149.99" width="7.55" height="7.69" fill="#fff1ee"/>
<rect x="107.04" y="149.99" width="7.55" height="7.69" fill="#e6edfc"/>
<rect x="113.59" y="149.99" width="7.55" height="7.69" fill="#ffe8e2"/>
<rect x="120.14" y="149.99" width="7.55" height="7.69" fill="#fffaf9"/>
<rect x="126.69" y="149.99" width="7.55" height="7.69" fill="#ffffff"/>
<rect x="133.24" y="149.99" width="7.55" height="7.69" fill="#ffece8"/>
<rect x="139.78" y="149.99" width="7.55" height="7.69" fill="#ffcbc1"/>
<rect x="146.33" y="149.99" width="7.55" height="7.69" fill="#fff1ee"/>
<rect x="152.88" y="149.99" width="7.55" height="7.69" fill="#9db7f3"/>
<rect x="159.43" y="149.99" width="7.55" height="7.69" fill="#ffffff"/>
<rect x="165.98" y="149.99" width="7.55" height="7.69" fill="#f2f6fd"/>
<rect x="172.53" y="149.99" width="7.55" height="7.69" fill="#e6edfc"/>
<rect x="179.08" y="149.99" width="7.55" height="7.69" fill="#fff6f4"/>
<rect x="185.63" y="149.99" width="7.55" height="7.69" fill="#f9fafe"/>
<rect x="192.18" y="149.99" width="7.55" height="7.69" fill="#e0e8fb"/>
<rect x="198.73" y="149.99" width="7.55" height="7.69" fill="#ffffff"/>
<rect x="205.27" y="149.99" width="7.55" height="7.69" fill="#c0d1f7"/>
<rect x="211.82" y="149.99" width="7.55" height="7.69" fill="#ecf1fd"/>
<rect x="218.37" y="149.99" width="7.55" height="7.69" fill="#e0e8fb"/>
<rect x="224.92" y="149.99" width="7.55" height="7.69" fill="#f9fafe"/>
<rect x="231.47" y="149.99" width="7.55" height="7.69" fill="#f2f6fd"/>
<rect x="238.02" y="149.99" width="7.55" height="7.69" fill="#d9e3fa"/>
<rect x="244.57" y="149.99" width="7.55" height="7.69" fill="#ffc2b6"/>
<rect x="251.12" y="149.99" width="7.55" height="7.69" fill="#fffaf9"/>
<rect x="257.67" y="149.99" width="7.55" height="7.69" fill="#e6edfc"/>
<rect x="264.22" y="149.99" width="7.55" height="7.69" fill="#ffffff"/>
<rect x="270.76" y="149.99" width="7.55" height="7.69" fill="#e6edfc"/>
<rect x="277.31" y="149.99" width="7.55" height="7.69" fill="#ffd0c7"/>
<rect x="283.86" y="149.99" width="7.55" height="7.69" fill="#c0d1f7"/>
<rect x="290.41" y="149.99" width="7.55" height="7.69" fill="#e0e8fb"/>
<rect x="296.96" y="149.99" width="7.55" height="7.69" fill="#e6edfc"/>
<rect x="303.51" y="149.99" width="7.55" height="7.69" fill="#a8bff4"/>
<rect x="310.06" y="149.99" width="7.55" height="7.69" fill="#cddaf9"/>
<rect x="316.61" y="149.99" width="7.55" height="7.69" fill="#c0d1f7"/>
<rect x="323.16" y="149.99" width="7.55" height="7.69" fill="#fff1ee"/>
<rect x="329.71" y="149.99" width="7.55" height="7.69" fill="#e0e8fb"/>
<rect x="336.25" y="149.99" width="7.55" height="7.69" fill="#e6edfc"/>
<rect x="342.80" y="149.99" width="7.55" height="7.69" fill="#d9e3fa"/>
<rect x="349.35" y="149.99" width="7.55" height="7.69" fill="#e0e8fb"/>
<rect x="355.90" y="149.99" width="7.55" height="7.69" fill="#c6d5f8"/>
<rect x="362.45" y="149.99" width="6.55" height="7.69" fill="#d9e3fa"/>
<rect x="35.00" y="156.68" width="7.55" height="7.69" fill="#ff8172"/>
<rect x="41.55" y="156.68" width="7.55" height="7.69" fill="#f2f6fd"/>
<rect x="48.10" y="156.68" width="7.55" height="7.69" fill="#ff7667"/>
<rect x="54.65" y="156.68" width="7.55" height="7.69" fill="#ffb3a6"/>
<rect x="61.20" y="156.68" width="7.55" height="7.69" fill="#ecf1fd"/>
<rect x="67.75" y="156.68" width="7.55" height="7.69" fill="#ffa091"/>
<rect x="74.29" y="156.68" width="7.55" height="7.69" fill="#ffe3dd"/>
<rect x="80.84" y="156.68" width="7.55" height="7.69" fill="#ffe8e2"/>
<rect x="87.39" y="156.68" width="7.55" height="7.69" fill="#ffe8e2"/>
<rect x="93.94" y="156.68" width="7.55" height="7.69" fill="#ffd9d2"/>
<rect x="100.49" y="156.68" width="7.55" height="7.69" fill="#e6edfc"/>
<rect x="107.04" y="156.68" width="7.55" height="7.69" fill="#ffffff"/>
<rect x="113.59" y="156.68" width="7.55" height="7.69" fill="#ffe3dd"/>
<rect x="120.14" y="156.68" width="7.55" height="7.69" fill="#ffe3dd"/>
<rect x="126.69" y="156.68" width="7.55" height="7.69" fill="#f2f6fd"/>
<rect x="133.24" y="156.68" width="7.55" height="7.69" fill="#ffe8e2"/>
<rect x="139.78" y="156.68" width="7.55" height="7.69" fill="#ffffff"/>
<rect x="146.33" y="156.68" width="7.55" height="7.69" fill="#fff1ee"/>
<rect x="152.88" y="156.68" width="7.55" height="7.69" fill="#ecf1fd"/>
<rect x="159.43" y="156.68" width="7.55" height="7.69" fill="#e0e8fb"/>
<rect x="165.98" y="156.68" width="7.55" height="7.69" fill="#e6edfc"/>
<rect x="172.53" y="156.68" width="7.55" height="7.69" fill="#ffffff"/>
<rect x="179.08" y="156.68" width="7.55" height="7.69" fill="#ffffff"/>
<rect x="185.63" y="156.68" width="7.55" height="7.69" fill="#f9fafe"/>
<rect x="192.18" y="156.68" width="7.55" height="7.69" fill="#d9e3fa"/>
<rect x="198.73" y="156.68" width="7.55" height="7.69" fill="#f9fafe"/>
<rect x="205.27" y="156.68" width="7.55" height="7.69" fill="#e0e8fb"/>
<rect x="211.82" y="156.68" width="7.55" height="7.69" fill="#e6edfc"/>
<rect x="218.37" y="156.68" width="7.55" height="7.69" fill="#d9e3fa"/>
<rect x="224.92" y="156.68" width="7.55" height="7.69" fill="#e6edfc"/>
<rect x="231.47" y="156.68" width="7.55" height="7.69" fill="#ecf1fd"/>
<rect x="238.02" y="156.68" width="7.55" height="7.69" fill="#c6d5f8"/>
<rect x="244.57" y="156.68" width="7.55" height="7.69" fill="#ffffff"/>
<rect x="251.12" y="156.68" width="7.55" height="7.69" fill="#f2f6fd"/>
<rect x="257.67" y="156.68" width="7.55" height="7.69" fill="#ecf1fd"/>
<rect x="264.22" y="156.68" width="7.55" height="7.69" fill="#ecf1fd"/>
<rect x="270.76" y="156.68" width="7.55" height="7.69" fill="#e6edfc"/>
<rect x="277.31" y="156.68" width="7.55" height="7.69" fill="#ffffff"/>
<rect x="283.86" y="156.68" width="7.55" height="7.69" fill="#baccf6"/>
<rect x="290.41" y="156.68" width="7.55" height="7.69" fill="#d9e3fa"/>
<rect x="296.96" y="156.68" width="7.55" height="7.69" fill="#d9e3fa"/>
<rect x="303.51" y="156.68" width="7.55" height="7.69" fill="#d9e3fa"/>
<rect x="310.06" y="156.68" width="7.55" height="7.69" fill="#d9e3fa"/>
<rect x="316.61" y="156.68" width="7.55" height="7.69" fill="#d9e3fa"/>
<rect x="323.16" y="156.68" width="7.55" height="7.69" fill="#e6edfc"/>
<rect x="329.71" y="156.68" width="7.55" height="7.69" fill="#d9e3fa"/>
<rect x="336.25" y="156.68" width="7.55" height="7.69" fill="#d9e3fa"/>
<rect x="342.80" y="156.68" width="7.55" height="7.69" fill="#e0e8fb"/>
<rect x="349.35" y="156.68" width="7.55" height="7.69" fill="#cddaf9"/>
<rect x="355.90" y="156.68" width="7.55" height="7.69" fill="#d9e3fa"/>
<rect x="362.45" y="156.68" width="6.55" height="7.69" fill="#cddaf9"/>
<rect x="35.00" y="163.38" width="7.55" height="7.69" fill="#ffffff"/>
<rect x="41.55" y="163.38" width="7.55" height="7.69" fill="#ffc2b6"/>
<rect x="48.10" y="163.38" width="7.55" height="7.69" fill="#d3dffa"/>
<rect x="54.65" y="163.38" width="7.55" height="7.69" fill="#fffaf9"/>
<rect x="61.20" y="163.38" width="7.55" height="7.69" fill="#ffe3dd"/>
<rect x="67.75" y="163.38" width="7.55" height="7.69" fill="#d9e3fa"/>
<rect x="74.29" y="163.38" width="7.55" height="7.69" fill="#ffece8"/>
<rect x="80.84" y="163.38" width="7.55" height="7.69" fill="#ffe8e2"/>
<rect x="87.39" y="163.38" width="7.55" height="7.69" fill="#ffece8"/>
<rect x="93.94" y="163.38" width="7.55" height="7.69" fill="#ffbdb1"/>
<rect x="100.49" y="163.38" width="7.55" height="7.69" fill="#ffece8"/>
<rect x="107.04" y="163.38" width="7.55" height="7.69" fill="#fffaf9"/>
<rect x="113.59" y="163.38" width="7.55" height="7.69" fill="#ffbdb1"/>
<rect x="120.14" y="163.38" width="7.55" height="7.69" fill="#ffc2b6"/>
<rect x="126.69" y="163.38" width="7.55" height="7.69" fill="#ffece8"/>
<rect x="133.24" y="163.38" width="7.55" height="7.69" fill="#ffc6bc"/>
<rect x="139.78" y="163.38" width="7.55" height="7.69" fill="#f2f6fd"/>
<rect x="146.33" y="163.38" width="7.55" height="7.69" fill="#fff1ee"/>
<rect x="152.88" y="163.38" width="7.55" height="7.69" fill="#ffffff"/>
<rect x="159.43" y="163.38" width="7.55" height="7.69" fill="#d9e3fa"/>
<rect x="165.98" y="163.38" width="7.55" height="7.69" fill="#d9e3fa"/>
<rect x="172.53" y="163.38" width="7.55" height="7.69" fill="#ffffff"/>
<rect x="179.08" y="163.38" width="7.55" height="7.69" fill="#fff6f4"/>
<rect x="185.63" y="163.38" width="7.55" height="7.69" fill="#ffd9d2"/>
<rect x="192.18" y="163.38" width="7.55" height="7.69" fill="#c6d5f8"/>
<rect x="198.73" y="163.38" width="7.55" height="7.69" fill="#f2f6fd"/>
<rect x="205.27" y="163.38" width="7.55" height="7.69" fill="#c6d5f8"/>
<rect x="211.82" y="163.38" width="7.55" height="7.69" fill="#c0d1f7"/>
<rect x="218.37" y="163.38" width="7.55" height="7.69" fill="#cddaf9"/>
<rect x="224.92" y="163.38" width="7.55" height="7.69" fill="#ecf1fd"/>
<rect x="231.47" y="163.38" width="7.55" height="7.69" fill="#e0e8fb"/>
<rect x="238.02" y="163.38" width="7.55" height="7.69" fill="#e0e8fb"/>
<rect x="244.57" y="163.38" width="7.55" height="7.69" fill="#e6edfc"/>
<rect x="251.12" y="163.38" width="7.55" height="7.69" fill="#c6d5f8"/>
<rect x="257.67" y="163.38" width="7.55" height="7.69" fill="#e6edfc"/>
<rect x="264.22" y="163.38" width="7.55" height="7.69" fill="#fff6f4"/>
<rect x="270.76" y="163.38" width="7.55" height="7.69" fill="#d9e3fa"/>
<rect x="277.31" y="163.38" width="7.55" height="7.69" fill="#e6edfc"/>
<rect x="283.86" y="163.38" width="7.55" height="7.69" fill="#ffcbc1"/>
<rect x="290.41" y="163.38" width="7.55" height="7.69" fill="#d9e3fa"/>
<rect x="296.96" y="163.38" width="7.55" height="7.69" fill="#ffc6bc"/>
<rect x="303.51" y="163.38" width="7.55" height="7.69" fill="#ffb3a6"/>
<rect x="310.06" y="163.38" width="7.55" height="7.69" fill="#ecf1fd"/>
<rect x="316.61" y="163.38" width="7.55" height="7.69" fill="#e6edfc"/>
<rect x="323.16" y="163.38" width="7.55" height="7.69" fill="#cddaf9"/>
<rect x="329.71" y="163.38" width="7.55" height="7.69" fill="#f2f6fd"/>
<rect x="336.25" y="163.38" width="7.55" height="7.69" fill="#ecf1fd"/>
<rect x="342.80" y="163.38" width="7.55" height="7.69" fill="#f9fafe"/>
<rect x="349.35" y="163.38" width="7.55" height="7.69" fill="#cddaf9"/>
<rect x="355.90" y="163.38" width="7.55" height="7.69" fill="#e0e8fb"/>
<rect x="362.45" y="163.38" width="6.55" height="7.69" fill="#e0e8fb"/>
<rect x="35.00" y="170.07" width="7.55" height="7.69" fill="#ffe8e2"/>
<rect x="41.55" y="170.07" width="7.55" height="7.69" fill="#ffffff"/>
<rect x="48.10" y="170.07" width="7.55" height="7.69" fill="#ffd0c7"/>
<rect x="54.65" y="170.07" width="7.55" height="7.69" fill="#ffd0c7"/>
<rect x="61.20" y="170.07" width="7.55" height="7.69" fill="#ffd5cc"/>
<rect x="67.75" y="170.07" width="7.55" height="7.69" fill="#ffd5cc"/>
<rect x="74.29" y="170.07" width="7.55" height="7.69" fill="#ffffff"/>
<rect x="80.84" y="170.07" width="7.55" height="7.69" fill="#ffb8ab"/>
<rect x="87.39" y="170.07" width="7.55" height="7.69" fill="#ffece8"/>
<rect x="93.94" y="170.07" width="7.55" height="7.69" fill="#ffc2b6"/>
<rect x="100.49" y="170.07" width="7.55" height="7.69" fill="#ffb3a6"/>
<rect x="107.04" y="170.07" width="7.55" height="7.69" fill="#ffb8ab"/>
<rect x="113.59" y="170.07" width="7.55" height="7.69" fill="#ffb8ab"/>
<rect x="120.14" y="170.07" width="7.55" height="7.69" fill="#fffaf9"/>
<rect x="126.69" y="170.07" width="7.55" height="7.69" fill="#d3dffa"/>
<rect x="133.24" y="170.07" width="7.55" height="7.69" fill="#fffaf9"/>
<rect x="139.78" y="170.07" width="7.55" height="7.69" fill="#ffe3dd"/>
<rect x="146.33" y="170.07" width="7.55" height="7.69" fill="#ffc6bc"/>
<rect x="152.88" y="170.07" width="7.55" height="7.69" fill="#a8bff4"/>
<rect x="159.43" y="170.07" width="7.55" height="7.69" fill="#e6edfc"/>
<rect x="165.98" y="170.07" width="7.55" height="7.69" fill="#ffffff"/>
<rect x="172.53" y="170.07" width="7.55" height="7.69" fill="#d3dffa"/>
<rect x="179.08" y="170.07" width="7.55" height="7.69" fill="#fff1ee"/>
<rect x="185.63" y="170.07" width="7.55" height="7.69" fill="#ffffff"/>
<rect x="192.18" y="170.07" width="7.55" height="7.69" fill="#ecf1fd"/>
<rect x="198.73" y="170.07" width="7.55" height="7.69" fill="#ffe8e2"/>
<rect x="205.27" y="170.07" width="7.55" height="7.69" fill="#ffc2b6"/>
<rect x="211.82" y="170.07" width="7.55" height="7.69" fill="#ecf1fd"/>
<rect x="218.37" y="170.07" width="7.55" height="7.69" fill="#ffc6bc"/>
<rect x="224.92" y="170.07" width="7.55" height="7.69" fill="#ffe8e2"/>
<rect x="231.47" y="170.07" width="7.55" height="7.69" fill="#ffe3dd"/>
<rect x="238.02" y="170.07" width="7.55" height="7.69" fill="#fffaf9"/>
<rect x="244.57" y="170.07" width="7.55" height="7.69" fill="#cddaf9"/>
<rect x="251.12" y="170.07" width="7.55" height="7.69" fill="#e6edfc"/>
<rect x="257.67" y="170.07" width="7.55" height="7.69" fill="#9db7f3"/>
<rect x="264.22" y="170.07" width="7.55" height="7.69" fill="#b3c8f6"/>
<rect x="270.76" y="170.07" width="7.55" height="7.69" fill="#ffffff"/>
<rect x="277.31" y="170.07" width="7.55" height="7.69" fill="#ffffff"/>
<rect x="283.86" y="170.07" width="7.55" height="7.69" fill="#e6edfc"/>
<rect x="290.41" y="170.07" width="7.55" height="7.69" fill="#e0e8fb"/>
<rect x="296.96" y="170.07" width="7.55" height="7.69" fill="#ffe8e2"/>
<rect x="303.51" y="170.07" width="7.55" height="7.69" fill="#a8bff4"/>
<rect x="310.06" y="170.07" width="7.55" height="7.69" fill="#fffaf9"/>
<rect x="316.61" y="170.07" width="7.55" height="7.69" fill="#d3dffa"/>
<rect x="323.16" y="170.07" width="7.55" height="7.69" fill="#fff6f4"/>
<rect x="329.71" y="170.07" width="7.55" height="7.69" fill="#fffaf9"/>
<rect x="336.25" y="170.07" width="7.55" height="7.69" fill="#e0e8fb"/>
<rect x="342.80" y="170.07" width="7.55" height="7.69" fill="#ecf1fd"/>
<rect x="349.35" y="170.07" width="7.55" height="7.69" fill="#e0e8fb"/>
<rect x="355.90" y="170.07" width="7.55" height="7.69" fill="#ecf1fd"/>
<rect x="362.45" y="170.07" width="6.55" height="7.69" fill="#e0e8fb"/>
<rect x="35.00" y="176.76" width="7.55" height="7.69" fill="#ffd0c7"/>
<rect x="41.55" y="176.76" width="7.55" height="7.69" fill="#ffd0c7"/>
<rect x="48.10" y="176.76" width="7.55" height="7.69" fill="#ffd9d2"/>
<rect x="54.65" y="176.76" width="7.55" height="7.69" fill="#d9e3fa"/>
<rect x="61.20" y="176.76" width="7.55" height="7.69" fill="#ffe8e2"/>
<rect x="67.75" y="176.76" width="7.55" height="7.69" fill="#fff6f4"/>
<rect x="74.29" y="176.76" width="7.55" height="7.69" fill="#fff1ee"/>
<rect x="80.84" y="176.76" width="7.55" height="7.69" fill="#ffa99b"/>
<rect x="87.39" y="176.76" width="7.55" height="7.69" fill="#ffd0c7"/>
<rect x="93.94" y="176.76" width="7.55" height="7.69" fill="#ffb3a6"/>
<rect x="100.49" y="176.76" width="7.55" height="7.69" fill="#ffd0c7"/>
<rect x="107.04" y="176.76" width="7.55" height="7.69" fill="#ffd9d2"/>
<rect x="113.59" y="176.76" width="7.55" height="7.69" fill="#ffffff"/>
<rect x="120.14" y="176.76" width="7.55" height="7.69" fill="#ffe8e2"/>
<rect x="126.69" y="176.76" width="7.55" height="7.69" fill="#cddaf9"/>
<rect x="133.24" y="176.76" width="7.55" height="7.69" fill="#ecf1fd"/>
<rect x="139.78" y="176.76" width="7.55" height="7.69" fill="#ffffff"/>
<rect x="146.33" y="176.76" width="7.55" height="7.69" fill="#fff1ee"/>
<rect x="152.88" y="176.76" width="7.55" height="7.69" fill="#e0e8fb"/>
<rect x="159.43" y="176.76" width="7.55" height="7.69" fill="#ecf1fd"/>
<rect x="165.98" y="176.76" width="7.55" height="7.69" fill="#e6edfc"/>
<rect x="172.53" y="176.76" width="7.55" height="7.69" fill="#ffffff"/>
<rect x="179.08" y="176.76" width="7.55" height="7.69" fill="#fff1ee"/>
<rect x="185.63" y="176.76" width="7.55" height="7.69" fill="#ffffff"/>
<rect x="192.18" y="176.76" width="7.55" height="7.69" fill="#ecf1fd"/>
<rect x="198.73" y="176.76" width="7.55" height="7.69" fill="#ffd0c7"/>
<rect x="205.27" y="176.76" width="7.55" height="7.69" fill="#ffc2b6"/>
<rect x="211.82" y="176.76" width="7.55" height="7.69" fill="#b0c5f5"/>
<rect x="218.37" y="176.76" width="7.55" height="7.69" fill="#ecf1fd"/>
<rect x="224.92" y="176.76" width="7.55" height="7.69" fill="#ecf1fd"/>
<rect x="231.47" y="176.76" width="7.55" height="7.69" fill="#ffc6bc"/>
<rect x="238.02" y="176.76" width="7.55" height="7.69" fill="#ffe8e2"/>
<rect x="244.57" y="176.76" width="7.55" height="7.69" fill="#e0e8fb"/>
<rect x="251.12" y="176.76" width="7.55" height="7.69" fill="#b0c5f5"/>
<rect x="257.67" y="176.76" width="7.55" height="7.69" fill="#a8bff4"/>
<rect x="264.22" y="176.76" width="7.55" height="7.69" fill="#cddaf9"/>
<rect x="270.76" y="176.76" width="7.55" height="7.69" fill="#e6edfc"/>
<rect x="277.31" y="176.76" width="7.55" height="7.69" fill="#fffaf9"/>
<rect x="283.86" y="176.76" width="7.55" height="7.69" fill="#ffcbc1"/>
<rect x="290.41" y="176.76" width="7.55" height="7.69" fill="#e6edfc"/>
<rect x="296.96" y="176.76" width="7.55" height="7.69" fill="#ffece8"/>
<rect x="303.51" y="176.76" width="7.55" height="7.69" fill="#ffffff"/>
<rect x="310.06" y="176.76" width="7.55" height="7.69" fill="#fff1ee"/>
<rect x="316.61" y="176.76" width="7.55" height="7.69" fill="#ecf1fd"/>
<rect x="323.16" y="176.76" width="7.55" height="7.69" fill="#ffe3dd"/>
<rect x="329.71" y="176.76" width="7.55" height="7.69" fill="#fff1ee"/>
<rect x="336.25" y="176.76" width="7.55" height="7.69" fill="#e0e8fb"/>
<rect x="342.80" y="176.76" width="7.55" height="7.69" fill="#ecf1fd"/>
<rect x="349.35" y="176.76" width="7.55" height="7.69" fill="#e0e8fb"/>
<rect x="355.90" y="176.76" width="7.55" height="7.69" fill="#ecf1fd"/>
<rect x="362.45" y="176.76" width="6.55" height="7.69" fill="#d3dffa"/>
<rect x="35.00" y="183.45" width="7.55" height="7.69" fill="#ffa99b"/>
<rect x="41.55" y="183.45" width="7.55" height="7.69" fill="#ffd0c7"/>
<rect x="48.10" y="183.45" width="7.55" height="7.69" fill="#ffb8ab"/>
<rect x="54.65" y="183.45" width="7.55" height="7.69" fill="#ffa99b"/>
<rect x="61.20" y="183.45" width="7.55" height="7.69" fill="#ffe3dd"/>
<rect x="67.75" y="183.45" width="7.55" height="7.69" fill="#ffece8"/>
<rect x="74.29" y="183.45" width="7.55" height="7.69" fill="#b3c8f6"/>
<rect x="80.84" y="183.45" width="7.55" height="7.69" fill="#ffe3dd"/>
<rect x="87.39" y="183.45" width="7.55" height="7.69" fill="#ffc6bc"/>
<rect x="93.94" y="183.45" width="7.55" height="7.69" fill="#ffd9d2"/>
<rect x="100.49" y="183.45" width="7.55" height="7.69" fill="#ffd5cc"/>
<rect x="107.04" y="183.45" width="7.55" height="7.69" fill="#ffc6bc"/>
<rect x="113.59" y="183.45" width="7.55" height="7.69" fill="#f9fafe"/>
<rect x="120.14" y="183.45" width="7.55" height="7.69" fill="#ecf1fd"/>
<rect x="126.69" y="183.45" width="7.55" height="7.69" fill="#ffece8"/>
<rect x="133.24" y="183.45" width="7.55" height="7.69" fill="#fff1ee"/>
<rect x="139.78" y="183.45" width="7.55" height="7.69" fill="#ffffff"/>
<rect x="146.33" y="183.45" width="7.55" height="7.69" fill="#ffece8"/>
<rect x="152.88" y="183.45" width="7.55" height="7.69" fill="#ffc6bc"/>
<rect x="159.43" y="183.45" width="7.55" height="7.69" fill="#ffffff"/>
<rect x="165.98" y="183.45" width="7.55" height="7.69" fill="#ffe3dd"/>
<rect x="172.53" y="183.45" width="7.55" height="7.69" fill="#fff6f4"/>
<rect x="179.08" y="183.45" width="7.55" height="7.69" fill="#e6edfc"/>
<rect x="185.63" y="183.45" width="7.55" height="7.69" fill="#ffffff"/>
<rect x="192.18" y="183.45" width="7.55" height="7.69" fill="#e0e8fb"/>
<rect x="198.73" y="183.45" width="7.55" height="7.69" fill="#ecf1fd"/>
<rect x="205.27" y="183.45" width="7.55" height="7.69" fill="#ffe3dd"/>
<rect x="211.82" y="183.45" width="7.55" height="7.69" fill="#ecf1fd"/>
<rect x="218.37" y="183.45" width="7.55" height="7.69" fill="#e6edfc"/>
<rect x="224.92" y="183.45" width="7.55" height="7.69" fill="#ffffff"/>
<rect x="231.47" y="183.45" width="7.55" height="7.69" fill="#f9fafe"/>
<rect x="238.02" y="183.45" width="7.55" height="7.69" fill="#ffd0c7"/>
<rect x="244.57" y="183.45" width="7.55" height="7.69" fill="#d9e3fa"/>
<rect x="251.12" y="183.45" width="7.55" height="7.69" fill="#e6edfc"/>
<rect x="257.67" y="183.45" width="7.55" height="7.69" fill="#96b2f2"/>
<rect x="264.22" y="183.45" width="7.55" height="7.69" fill="#9db7f3"/>
<rect x="270.76" y="183.45" width="7.55" height="7.69" fill="#e6edfc"/>
<rect x="277.31" y="183.45" width="7.55" height="7.69" fill="#f2f6fd"/>
<rect x="283.86" y="183.45" width="7.55" height="7.69" fill="#ffe8e2"/>
<rect x="290.41" y="183.45" width="7.55" height="7.69" fill="#ecf1fd"/>
<rect x="296.96" y="183.45" width="7.55" height="7.69" fill="#ffd5cc"/>
<rect x="303.51" y="183.45" width="7.55" height="7.69" fill="#ffd9d2"/>
<rect x="310.06" y="183.45" width="7.55" height="7.69" fill="#ecf1fd"/>
<rect x="316.61" y="183.45" width="7.55" height="7.69" fill="#e0e8fb"/>
<rect x="323.16" y="183.45" width="7.55" height="7.69" fill="#e6edfc"/>
<rect x="329.71" y="183.45" width="7.55" height="7.69" fill="#ecf1fd"/>
<rect x="336.25" y="183.45" width="7.55" height="7.69" fill="#fff6f4"/>
<rect x="342.80" y="183.45" width="7.55" height="7.69" fill="#e6edfc"/>
<rect x="349.35" y="183.45" width="7.55" height="7.69" fill="#c6d5f8"/>
<rect x="355.90" y="183.45" width="7.55" height="7.69" fill="#ffffff"/>
<rect x="362.45" y="183.45" width="6.55" height="7.69" fill="#d9e3fa"/>
<rect x="35.00" y="190.14" width="7.55" height="7.69" fill="#ffe3dd"/>
<rect x="41.55" y="190.14" width="7.55" height="7.69" fill="#ff7667"/>
<rect x="48.10" y="190.14" width="7.55" height="7.69" fill="#b3c8f6"/>
<rect x="54.65" y="190.14" width="7.55" height="7.69" fill="#a8bff4"/>
<rect x="61.20" y="190.14" width="7.55" height="7.69" fill="#fffaf9"/>
<rect x="67.75" y="190.14" width="7.55" height="7.69" fill="#ffd9d2"/>
<rect x="74.29" y="190.14" width="7.55" height="7.69" fill="#ffe8e2"/>
<rect x="80.84" y="190.14" width="7.55" height="7.69" fill="#ffd9d2"/>
<rect x="87.39" y="190.14" width="7.55" height="7.69" fill="#ffc6bc"/>
<rect x="93.94" y="190.14" width="7.55" height="7.69" fill="#e6edfc"/>
<rect x="100.49" y="190.14" width="7.55" height="7.69" fill="#ffd9d2"/>
<rect x="107.04" y="190.14" width="7.55" height="7.69" fill="#ffbdb1"/>
<rect x="113.59" y="190.14" width="7.55" height="7.69" fill="#ffbdb1"/>
<rect x="120.14" y="190.14" width="7.55" height="7.69" fill="#d3dffa"/>
<rect x="126.69" y="190.14" width="7.55" height="7.69" fill="#ffe8e2"/>
<rect x="133.24" y="190.14" width="7.55" height="7.69" fill="#c6d5f8"/>
<rect x="139.78" y="190.14" width="7.55" height="7.69" fill="#ffffff"/>
<rect x="146.33" y="190.14" width="7.55" height="7.69" fill="#ffffff"/>
<rect x="152.88" y="190.14" width="7.55" height="7.69" fill="#ecf1fd"/>
<rect x="159.43" y="190.14" width="7.55" height="7.69" fill="#e0e8fb"/>
<rect x="165.98" y="190.14" width="7.55" height="7.69" fill="#d3dffa"/>
<rect x="172.53" y="190.14" width="7.55" height="7.69" fill="#d3dffa"/>
<rect x="179.08" y="190.14" width="7.55" height="7.69" fill="#e6edfc"/>
<rect x="185.63" y="190.14" width="7.55" height="7.69" fill="#e6edfc"/>
<rect x="192.18" y="190.14" width="7.55" height="7.69" fill="#ffded7"/>
<rect x="198.73" y="190.14" width="7.55" height="7.69" fill="#ffffff"/>
<rect x="205.27" y="190.14" width="7.55" height="7.69" fill="#ffe8e2"/>
<rect x="211.82" y="190.14" width="7.55" height="7.69" fill="#f9fafe"/>
<rect x="218.37" y="190.14" width="7.55" height="7.69" fill="#ffe8e2"/>
<rect x="224.92" y="190.14" width="7.55" height="7.69" fill="#ecf1fd"/>
<rect x="231.47" y="190.14" width="7.55" height="7.69" fill="#fff1ee"/>
<rect x="238.02" y="190.14" width="7.55" height="7.69" fill="#ffc6bc"/>
<rect x="244.57" y="190.14" width="7.55" height="7.69" fill="#e6edfc"/>
<rect x="251.12" y="190.14" width="7.55" height="7.69" fill="#f2f6fd"/>
<rect x="257.67" y="190.14" width="7.55" height="7.69" fill="#d9e3fa"/>
<rect x="264.22" y="190.14" width="7.55" height="7.69" fill="#e6edfc"/>
<rect x="270.76" y="190.14" width="7.55" height="7.69" fill="#d9e3fa"/>
<rect x="277.31" y="190.14" width="7.55" height="7.69" fill="#ffd9d2"/>
<rect x="283.86" y="190.14" width="7.55" height="7.69" fill="#ffd9d2"/>
<rect x="290.41" y="190.14" width="7.55" height="7.69" fill="#ecf1fd"/>
<rect x="296.96" y="190.14" width="7.55" height="7.69" fill="#ffb3a6"/>
<rect x="303.51" y="190.14" width="7.55" height="7.69" fill="#ffa091"/>
<rect x="310.06" y="190.14" width="7.55" height="7.69" fill="#e0e8fb"/>
<rect x="316.61" y="190.14" width="7.55" height="7.69" fill="#ffc2b6"/>
<rect x="323.16" y="190.14" width="7.55" height="7.69" fill="#e6edfc"/>
<rect x="329.71" y="190.14" width="7.55" height="7.69" fill="#e6edfc"/>
<rect x="336.25" y="190.14" width="7.55" height="7.69" fill="#d3dffa"/>
<rect x="342.80" y="190.14" width="7.55" height="7.69" fill="#e6edfc"/>
<rect x="349.35" y="190.14" width="7.55" height="7.69" fill="#d9e3fa"/>
<rect x="355.90" y="190.14" width="7.55" height="7.69" fill="#cddaf9"/>
<rect x="362.45" y="190.14" width="6.55" height="7.69" fill="#c6d5f8"/>
<rect x="35.00" y="196.83" width="7.55" height="7.69" fill="#ffe3dd"/>
<rect x="41.55" y="196.83" width="7.55" height="7.69" fill="#ffc6bc"/>
<rect x="48.10" y="196.83" width="7.55" height="7.69" fill="#cddaf9"/>
<rect x="54.65" y="196.83" width="7.55" height="7.69" fill="#c0d1f7"/>
<rect x="61.20" y="196.83" width="7.55" height="7.69" fill="#ffb8ab"/>
<rect x="67.75" y="196.83" width="7.55" height="7.69" fill="#ffe3dd"/>
<rect x="74.29" y="196.83" width="7.55" height="7.69" fill="#fffaf9"/>
<rect x="80.84" y="196.83" width="7.55" height="7.69" fill="#fff1ee"/>
<rect x="87.39" y="196.83" width="7.55" height="7.69" fill="#ffffff"/>
<rect x="93.94" y="196.83" width="7.55" height="7.69" fill="#ffb8ab"/>
<rect x="100.49" y="196.83" width="7.55" height="7.69" fill="#fffaf9"/>
<rect x="107.04" y="196.83" width="7.55" height="7.69" fill="#ffc2b6"/>
<rect x="113.59" y="196.83" width="7.55" height="7.69" fill="#ffa091"/>
<rect x="120.14" y="196.83" width="7.55" height="7.69" fill="#ecf1fd"/>
<rect x="126.69" y="196.83" width="7.55" height="7.69" fill="#cddaf9"/>
<rect x="133.24" y="196.83" width="7.55" height="7.69" fill="#c6d5f8"/>
<rect x="139.78" y="196.83" width="7.55" height="7.69" fill="#d9e3fa"/>
<rect x="146.33" y="196.83" width="7.55" height="7.69" fill="#f2f6fd"/>
<rect x="152.88" y="196.83" width="7.55" height="7.69" fill="#f9fafe"/>
<rect x="159.43" y="196.83" width="7.55" height="7.69" fill="#e6edfc"/>
<rect x="165.98" y="196.83" width="7.55" height="7.69" fill="#d9e3fa"/>
<rect x="172.53" y="196.83" width="7.55" height="7.69" fill="#e0e8fb"/>
<rect x="179.08" y="196.83" width="7.55" height="7.69" fill="#fff1ee"/>
<rect x="185.63" y="196.83" width="7.55" height="7.69" fill="#e6edfc"/>
<rect x="192.18" y="196.83" width="7.55" height="7.69" fill="#ecf1fd"/>
<rect x="198.73" y="196.83" width="7.55" height="7.69" fill="#ffe8e2"/>
<rect x="205.27" y="196.83" width="7.55" height="7.69" fill="#ff4440"/>
<rect x="211.82" y="196.83" width="7.55" height="7.69" fill="#ffffff"/>
<rect x="218.37" y="196.83" width="7.55" height="7.69" fill="#ffa99b"/>
<rect x="224.92" y="196.83" width="7.55" height="7.69" fill="#f9fafe"/>
<rect x="231.47" y="196.83" width="7.55" height="7.69" fill="#e0e8fb"/>
<rect x="238.02" y="196.83" width="7.55" height="7.69" fill="#e0e8fb"/>
<rect x="244.57" y="196.83" width="7.55" height="7.69" fill="#e0e8fb"/>
<rect x="251.12" y="196.83" width="7.55" height="7.69" fill="#e6edfc"/>
<rect x="257.67" y="196.83" width="7.55" height="7.69" fill="#e6edfc"/>
<rect x="264.22" y="196.83" width="7.55" height="7.69" fill="#e6edfc"/>
<rect x="270.76" y="196.83" width="7.55" height="7.69" fill="#e6edfc"/>
<rect x="277.31" y="196.83" width="7.55" height="7.69" fill="#ffe8e2"/>
<rect x="283.86" y="196.83" width="7.55" height="7.69" fill="#ffcbc1"/>
<rect x="290.41" y="196.83" width="7.55" height="7.69" fill="#ecf1fd"/>
<rect x="296.96" y="196.83" width="7.55" height="7.69" fill="#ffe3dd"/>
<rect x="303.51" y="196.83" width="7.55" height="7.69" fill="#c6d5f8"/>
<rect x="310.06" y="196.83" width="7.55" height="7.69" fill="#c6d5f8"/>
<rect x="316.61" y="196.83" width="7.55" height="7.69" fill="#e0e8fb"/>
<rect x="323.16" y="196.83" width="7.55" height="7.69" fill="#fffaf9"/>
<rect x="329.71" y="196.83" width="7.55" height="7.69" fill="#cddaf9"/>
<rect x="336.25" y="196.83" width="7.55" height="7.69" fill="#ffffff"/>
<rect x="342.80" y="196.83" width="7.55" height="7.69" fill="#ffe8e2"/>
<rect x="349.35" y="196.83" width="7.55" height="7.69" fill="#ffffff"/>
<rect x="355.90" y="196.83" width="7.55" height="7.69" fill="#d9e3fa"/>
<rect x="362.45" y="196.83" width="6.55" height="7.69" fill="#f9fafe"/>
<rect x="35.00" y="203.53" width="7.55" height="7.69" fill="#ffe3dd"/>
<rect x="41.55" y="203.53" width="7.55" height="7.69" fill="#ffe3dd"/>
<rect x="48.10" y="203.53" width="7.55" height="7.69" fill="#ffd9d2"/>
<rect x="54.65" y="203.53" width="7.55" height="7.69" fill="#e6edfc"/>
<rect x="61.20" y="203.53" width="7.55" height="7.69" fill="#ffd5cc"/>
<rect x="67.75" y="203.53" width="7.55" height="7.69" fill="#ff9686"/>
<rect x="74.29" y="203.53" width="7.55" height="7.69" fill="#ff9686"/>
<rect x="80.84" y="203.53" width="7.55" height="7.69" fill="#fffaf9"/>
<rect x="87.39" y="203.53" width="7.55" height="7.69" fill="#d9e3fa"/>
<rect x="93.94" y="203.53" width="7.55" height="7.69" fill="#ffe8e2"/>
<rect x="100.49" y="203.53" width="7.55" height="7.69" fill="#e6edfc"/>
<rect x="107.04" y="203.53" width="7.55" height="7.69" fill="#ffffff"/>
<rect x="113.59" y="203.53" width="7.55" height="7.69" fill="#ffe3dd"/>
<rect x="120.14" y="203.53" width="7.55" height="7.69" fill="#ff9686"/>
<rect x="126.69" y="203.53" width="7.55" height="7.69" fill="#ffe8e2"/>
<rect x="133.24" y="203.53" width="7.55" height="7.69" fill="#cddaf9"/>
<rect x="139.78" y="203.53" width="7.55" height="7.69" fill="#ffe8e2"/>
<rect x="146.33" y="203.53" width="7.55" height="7.69" fill="#e6edfc"/>
<rect x="152.88" y="203.53" width="7.55" height="7.69" fill="#fffaf9"/>
<rect x="159.43" y="203.53" width="7.55" height="7.69" fill="#ffd9d2"/>
<rect x="165.98" y="203.53" width="7.55" height="7.69" fill="#fff6f4"/>
<rect x="172.53" y="203.53" width="7.55" height="7.69" fill="#fff1ee"/>
<rect x="179.08" y="203.53" width="7.55" height="7.69" fill="#ffffff"/>
<rect x="185.63" y="203.53" width="7.55" height="7.69" fill="#ecf1fd"/>
<rect x="192.18" y="203.53" width="7.55" height="7.69" fill="#fff1ee"/>
<rect x="198.73" y="203.53" width="7.55" height="7.69" fill="#e6edfc"/>
<rect x="205.27" y="203.53" width="7.55" height="7.69" fill="#ffe3dd"/>
<rect x="211.82" y="203.53" width="7.55" height="7.69" fill="#e0e8fb"/>
<rect x="218.37" y="203.53" width="7.55" height="7.69" fill="#ecf1fd"/>
<rect x="224.92" y="203.53" width="7.55" height="7.69" fill="#e0e8fb"/>
<rect x="231.47" y="203.53" width="7.55" height="7.69" fill="#e6edfc"/>
<rect x="238.02" y="203.53" width="7.55" height="7.69" fill="#ffc6bc"/>
<rect x="244.57" y="203.53" width="7.55" height="7.69" fill="#d9e3fa"/>
<rect x="251.12" y="203.53" width="7.55" height="7.69" fill="#e0e8fb"/>
<rect x="257.67" y="203.53" width="7.55" height="7.69" fill="#c6d5f8"/>
<rect x="264.22" y="203.53" width="7.55" height="7.69" fill="#c6d5f8"/>
<rect x="270.76" y="203.53" width="7.55" height="7.69" fill="#d9e3fa"/>
<rect x="277.31" y="203.53" width="7.55" height="7.69" fill="#ffc2b6"/>
<rect x="283.86" y="203.53" width="7.55" height="7.69" fill="#fffaf9"/>
<rect x="290.41" y="203.53" width="7.55" height="7.69" fill="#e6edfc"/>
<rect x="296.96" y="203.53" width="7.55" height="7.69" fill="#fff1ee"/>
<rect x="303.51" y="203.53" width="7.55" height="7.69" fill="#fff1ee"/>
<rect x="310.06" y="203.53" width="7.55" height="7.69" fill="#ffded7"/>
<rect x="316.61" y="203.53" width="7.55" height="7.69" fill="#e0e8fb"/>
<rect x="323.16" y="203.53" width="7.55" height="7.69" fill="#e6edfc"/>
<rect x="329.71" y="203.53" width="7.55" height="7.69" fill="#baccf6"/>
<rect x="336.25" y="203.53" width="7.55" height="7.69" fill="#d3dffa"/>
<rect x="342.80" y="203.53" width="7.55" height="7.69" fill="#ffe3dd"/>
<rect x="349.35" y="203.53" width="7.55" height="7.69" fill="#e6edfc"/>
<rect x="355.90" y="203.53" width="7.55" height="7.69" fill="#c6d5f8"/>
<rect x="362.45" y="203.53" width="6.55" height="7.69" fill="#b3c8f6"/>
<rect x="35.00" y="210.22" width="7.55" height="7.69" fill="#ffece8"/>
<rect x="41.55" y="210.22" width="7.55" height="7.69" fill="#ff7667"/>
<rect x="48.10" y="210.22" width="7.55" height="7.69" fill="#ffe3dd"/>
<rect x="54.65" y="210.22" width="7.55" height="7.69" fill="#ffe3dd"/>
<rect x="61.20" y="210.22" width="7.55" height="7.69" fill="#ffe3dd"/>
<rect x="67.75" y="210.22" width="7.55" height="7.69" fill="#ffd9d2"/>
<rect x="74.29" y="210.22" width="7.55" height="7.69" fill="#ffece8"/>
<rect x="80.84" y="210.22" width="7.55" height="7.69" fill="#ffece8"/>
<rect x="87.39" y="210.22" width="7.55" height="7.69" fill="#ffd5cc"/>
<rect x="93.94" y="210.22" width="7.55" height="7.69" fill="#ffffff"/>
<rect x="100.49" y="210.22" width="7.55" height="7.69" fill="#e6edfc"/>
<rect x="107.04" y="210.22" width="7.55" height="7.69" fill="#ffece8"/>
<rect x="113.59" y="210.22" width="7.55" height="7.69" fill="#ffe3dd"/>
<rect x="120.14" y="210.22" width="7.55" height="7.69" fill="#ffd9d2"/>
<rect x="126.69" y="210.22" width="7.55" height="7.69" fill="#fff6f4"/>
<rect x="133.24" y="210.22" width="7.55" height="7.69" fill="#e6edfc"/>
<rect x="139.78" y="210.22" width="7.55" height="7.69" fill="#e6edfc"/>
<rect x="146.33" y="210.22" width="7.55" height="7.69" fill="#ffd5cc"/>
<rect x="152.88" y="210.22" width="7.55" height="7.69" fill="#ffd5cc"/>
<rect x="159.43" y="210.22" width="7.55" height="7.69" fill="#ffe3dd"/>
<rect x="165.98" y="210.22" width="7.55" height="7.69" fill="#ffffff"/>
<rect x="172.53" y="210.22" width="7.55" height="7.69" fill="#ffe3dd"/>
<rect x="179.08" y="210.22" width="7.55" height="7.69" fill="#fff1ee"/>
<rect x="185.63" y="210.22" width="7.55" height="7.69" fill="#f9fafe"/>
<rect x="192.18" y="210.22" width="7.55" height="7.69" fill="#fff1ee"/>
<rect x="198.73" y="210.22" width="7.55" height="7.69" fill="#ecf1fd"/>
<rect x="205.27" y="210.22" width="7.55" height="7.69" fill="#ffe3dd"/>
<rect x="211.82" y="210.22" width="7.55" height="7.69" fill="#d9e3fa"/>
<rect x="218.37" y="210.22" width="7.55" height="7.69" fill="#ecf1fd"/>
<rect x="224.92" y="210.22" width="7.55" height="7.69" fill="#e6edfc"/>
<rect x="231.47" y="210.22" width="7.55" height="7.69" fill="#e0e8fb"/>
<rect x="238.02" y="210.22" width="7.55" height="7.69" fill="#fff1ee"/>
<rect x="244.57" y="210.22" width="7.55" height="7.69" fill="#b3c8f6"/>
<rect x="251.12" y="210.22" width="7.55" height="7.69" fill="#d3dffa"/>
<rect x="257.67" y="210.22" width="7.55" height="7.69" fill="#e0e8fb"/>
<rect x="264.22" y="210.22" width="7.55" height="7.69" fill="#d9e3fa"/>
<rect x="270.76" y="210.22" width="7.55" height="7.69" fill="#d3dffa"/>
<rect x="277.31" y="210.22" width="7.55" height="7.69" fill="#ffe8e2"/>
<rect x="283.86" y="210.22" width="7.55" height="7.69" fill="#ffbdb1"/>
<rect x="290.41" y="210.22" width="7.55" height="7.69" fill="#ecf1fd"/>
<rect x="296.96" y="210.22" width="7.55" height="7.69" fill="#e6edfc"/>
<rect x="303.51" y="210.22" width="7.55" height="7.69" fill="#fffaf9"/>
<rect x="310.06" y="210.22" width="7.55" height="7.69" fill="#ffe3dd"/>
<rect x="316.61" y="210.22" width="7.55" height="7.69" fill="#ffffff"/>
<rect x="323.16" y="210.22" width="7.55" height="7.69" fill="#ffd9d2"/>
<rect x="329.71" y="210.22" width="7.55" height="7.69" fill="#e0e8fb"/>
<rect x="336.25" y="210.22" width="7.55" height="7.69" fill="#e6edfc"/>
<rect x="342.80" y="210.22" width="7.55" height="7.69" fill="#c6d5f8"/>
<rect x="349.35" y="210.22" width="7.55" height="7.69" fill="#fff6f4"/>
<rect x="355.90" y="210.22" width="7.55" height="7.69" fill="#e0e8fb"/>
<rect x="362.45" y="210.22" width="6.55" height="7.69" fill="#5491ee"/>
<rect x="35.00" y="216.91" width="7.55" height="6.69" fill="#ffece8"/>
<rect x="41.55" y="216.91" width="7.55" height="6.69" fill="#ffece8"/>
<rect x="48.10" y="216.91" width="7.55" height="6.69" fill="#ffc6bc"/>
<rect x="54.65" y="216.91" width="7.55" height="6.69" fill="#ffe3dd"/>
<rect x="61.20" y="216.91" width="7.55" height="6.69" fill="#ffe8e2"/>
<rect x="67.75" y="216.91" width="7.55" height="6.69" fill="#fff1ee"/>
<rect x="74.29" y="216.91" width="7.55" height="6.69" fill="#fff6f4"/>
<rect x="80.84" y="216.91" width="7.55" height="6.69" fill="#fff1ee"/>
<rect x="87.39" y="216.91" width="7.55" height="6.69" fill="#ffd9d2"/>
<rect x="93.94" y="216.91" width="7.55" height="6.69" fill="#fffaf9"/>
<rect x="100.49" y="216.91" width="7.55" height="6.69" fill="#ffffff"/>
<rect x="107.04" y="216.91" width="7.55" height="6.69" fill="#fffaf9"/>
<rect x="113.59" y="216.91" width="7.55" height="6.69" fill="#ffd9d2"/>
<rect x="120.14" y="216.91" width="7.55" height="6.69" fill="#ffd9d2"/>
<rect x="126.69" y="216.91" width="7.55" height="6.69" fill="#ecf1fd"/>
<rect x="133.24" y="216.91" width="7.55" height="6.69" fill="#f2f6fd"/>
<rect x="139.78" y="216.91" width="7.55" height="6.69" fill="#ffffff"/>
<rect x="146.33" y="216.91" width="7.55" height="6.69" fill="#fff1ee"/>
<rect x="152.88" y="216.91" width="7.55" height="6.69" fill="#ecf1fd"/>
<rect x="159.43" y="216.91" width="7.55" height="6.69" fill="#e6edfc"/>
<rect x="165.98" y="216.91" width="7.55" height="6.69" fill="#ffffff"/>
<rect x="172.53" y="216.91" width="7.55" height="6.69" fill="#ffffff"/>
<rect x="179.08" y="216.91" width="7.55" height="6.69" fill="#ffece8"/>
<rect x="185.63" y="216.91" width="7.55" height="6.69" fill="#d9e3fa"/>
<rect x="192.18" y="216.91" width="7.55" height="6.69" fill="#ffffff"/>
<rect x="198.73" y="216.91" width="7.55" height="6.69" fill="#f9fafe"/>
<rect x="205.27" y="216.91" width="7.55" height="6.69" fill="#ffe8e2"/>
<rect x="211.82" y="216.91" width="7.55" height="6.69" fill="#e6edfc"/>
<rect x="218.37" y="216.91" width="7.55" height="6.69" fill="#f9fafe"/>
<rect x="224.92" y="216.91" width="7.55" height="6.69" fill="#e6edfc"/>
<rect x="231.47" y="216.91" width="7.55" height="6.69" fill="#ecf1fd"/>
<rect x="238.02" y="216.91" width="7.55" height="6.69" fill="#ecf1fd"/>
<rect x="244.57" y="216.91" width="7.55" height="6.69" fill="#c0d1f7"/>
<rect x="251.12" y="216.91" width="7.55" height="6.69" fill="#e0e8fb"/>
<rect x="257.67" y="216.91" width="7.55" height="6.69" fill="#f2f6fd"/>
<rect x="264.22" y="216.91" width="7.55" height="6.69" fill="#d9e3fa"/>
<rect x="270.76" y="216.91" width="7.55" height="6.69" fill="#ffffff"/>
<rect x="277.31" y="216.91" width="7.55" height="6.69" fill="#fa192d"/>
<rect x="283.86" y="216.91" width="7.55" height="6.69" fill="#ffd0c7"/>
<rect x="290.41" y="216.91" width="7.55" height="6.69" fill="#ecf1fd"/>
<rect x="296.96" y="216.91" width="7.55" height="6.69" fill="#ffcbc1"/>
<rect x="303.51" y="216.91" width="7.55" height="6.69" fill="#f9fafe"/>
<rect x="310.06" y="216.91" width="7.55" height="6.69" fill="#e0e8fb"/>
<rect x="316.61" y="216.91" width="7.55" height="6.69" fill="#e6edfc"/>
<rect x="323.16" y="216.91" width="7.55" height="6.69" fill="#e6edfc"/>
<rect x="329.71" y="216.91" width="7.55" height="6.69" fill="#ffe3dd"/>
<rect x="336.25" y="216.91" width="7.55" height="6.69" fill="#e0e8fb"/>
<rect x="342.80" y="216.91" width="7.55" height="6.69" fill="#e6edfc"/>
<rect x="349.35" y="216.91" width="7.55" height="6.69" fill="#c0d1f7"/>
<rect x="355.90" y="216.91" width="7.55" height="6.69" fill="#ecf1fd"/>
<rect x="362.45" y="216.91" width="6.55" height="6.69" fill="#b3c8f6"/>
<rect x="35.00" y="225.95" width="7.55" height="7.68" fill="#f2f6fd"/>
<rect x="41.55" y="225.95" width="7.55" height="7.68" fill="#e0e8fb"/>
<rect x="48.10" y="225.95" width="7.55" height="7.68" fill="#c6d5f8"/>
<rect x="54.65" y="225.95" width="7.55" height="7.68" fill="#e0e8fb"/>
<rect x="61.20" y="225.95" width="7.55" height="7.68" fill="#d9e3fa"/>
<rect x="67.75" y="225.95" width="7.55" height="7.68" fill="#cddaf9"/>
<rect x="74.29" y="225.95" width="7.55" height="7.68" fill="#baccf6"/>
<rect x="80.84" y="225.95" width="7.55" height="7.68" fill="#ffffff"/>
<rect x="87.39" y="225.95" width="7.55" height="7.68" fill="#f9fafe"/>
<rect x="93.94" y="225.95" width="7.55" height="7.68" fill="#e0e8fb"/>
<rect x="100.49" y="225.95" width="7.55" height="7.68" fill="#ffffff"/>
<rect x="107.04" y="225.95" width="7.55" height="7.68" fill="#ffc6bc"/>
<rect x="113.59" y="225.95" width="7.55" height="7.68" fill="#ffffff"/>
<rect x="120.14" y="225.95" width="7.55" height="7.68" fill="#e0e8fb"/>
<rect x="126.69" y="225.95" width="7.55" height="7.68" fill="#ffc6bc"/>
<rect x="133.24" y="225.95" width="7.55" height="7.68" fill="#f9fafe"/>
<rect x="139.78" y="225.95" width="7.55" height="7.68" fill="#c0d1f7"/>
<rect x="146.33" y="225.95" width="7.55" height="7.68" fill="#ffe8e2"/>
<rect x="152.88" y="225.95" width="7.55" height="7.68" fill="#ff9686"/>
<rect x="159.43" y="225.95" width="7.55" height="7.68" fill="#ffe3dd"/>
<rect x="165.98" y="225.95" width="7.55" height="7.68" fill="#ffa99b"/>
<rect x="172.53" y="225.95" width="7.55" height="7.68" fill="#ffa99b"/>
<rect x="179.08" y="225.95" width="7.55" height="7.68" fill="#ffded7"/>
<rect x="185.63" y="225.95" width="7.55" height="7.68" fill="#f9fafe"/>
<rect x="192.18" y="225.95" width="7.55" height="7.68" fill="#ffd0c7"/>
<rect x="198.73" y="225.95" width="7.55" height="7.68" fill="#ffe3dd"/>
<rect x="205.27" y="225.95" width="7.55" height="7.68" fill="#ffffff"/>
<rect x="211.82" y="225.95" width="7.55" height="7.68" fill="#f9fafe"/>
<rect x="218.37" y="225.95" width="7.55" height="7.68" fill="#f9fafe"/>
<rect x="224.92" y="225.95" width="7.55" height="7.68" fill="#fffaf9"/>
<rect x="231.47" y="225.95" width="7.55" height="7.68" fill="#f2f6fd"/>
<rect x="238.02" y="225.95" width="7.55" height="7.68" fill="#ffc2b6"/>
<rect x="244.57" y="225.95" width="7.55" height="7.68" fill="#e0e8fb"/>
<rect x="251.12" y="225.95" width="7.55" height="7.68" fill="#ffece8"/>
<rect x="257.67" y="225.95" width="7.55" height="7.68" fill="#ecf1fd"/>
<rect x="264.22" y="225.95" width="7.55" height="7.68" fill="#cddaf9"/>
<rect x="270.76" y="225.95" width="7.55" height="7.68" fill="#ffcbc1"/>
<rect x="277.31" y="225.95" width="7.55" height="7.68" fill="#baccf6"/>
<rect x="283.86" y="225.95" width="7.55" height="7.68" fill="#ffe3dd"/>
<rect x="290.41" y="225.95" width="7.55" height="7.68" fill="#ffe8e2"/>
<rect x="296.96" y="225.95" width="7.55" height="7.68" fill="#f2f6fd"/>
<rect x="303.51" y="225.95" width="7.55" height="7.68" fill="#ffd9d2"/>
<rect x="310.06" y="225.95" width="7.55" height="7.68" fill="#fff1ee"/>
<rect x="316.61" y="225.95" width="7.55" height="7.68" fill="#d9e3fa"/>
<rect x="323.16" y="225.95" width="7.55" height="7.68" fill="#fffaf9"/>
<rect x="329.71" y="225.95" width="7.55" height="7.68" fill="#ffded7"/>
<rect x="336.25" y="225.95" width="7.55" height="7.68" fill="#ffc2b6"/>
<rect x="342.80" y="225.95" width="7.55" height="7.68" fill="#e6edfc"/>
<rect x="349.35" y="225.95" width="7.55" height="7.68" fill="#ecf1fd"/>
<rect x="355.90" y="225.95" width="7.55" height="7.68" fill="#ffd0c7"/>
<rect x="362.45" y="225.95" width="6.55" height="7.68" fill="#89acf1"/>
<rect x="35.00" y="232.63" width="7.55" height="7.68" fill="#c6d5f8"/>
<rect x="41.55" y="232.63" width="7.55" height="7.68" fill="#b0c5f5"/>
<rect x="48.10" y="232.63" width="7.55" height="7.68" fill="#e6edfc"/>
<rect x="54.65" y="232.63" width="7.55" height="7.68" fill="#fffaf9"/>
<rect x="61.20" y="232.63" width="7.55" height="7.68" fill="#d3dffa"/>
<rect x="67.75" y="232.63" width="7.55" height="7.68" fill="#ecf1fd"/>
<rect x="74.29" y="232.63" width="7.55" height="7.68" fill="#b0c5f5"/>
<rect x="80.84" y="232.63" width="7.55" height="7.68" fill="#fffaf9"/>
<rect x="87.39" y="232.63" width="7.55" height="7.68" fill="#e0e8fb"/>
<rect x="93.94" y="232.63" width="7.55" height="7.68" fill="#c6d5f8"/>
<rect x="100.49" y="232.63" width="7.55" height="7.68" fill="#d9e3fa"/>
<rect x="107.04" y="232.63" width="7.55" height="7.68" fill="#ffc6bc"/>
<rect x="113.59" y="232.63" width="7.55" height="7.68" fill="#f9fafe"/>
<rect x="120.14" y="232.63" width="7.55" height="7.68" fill="#ffffff"/>
<rect x="126.69" y="232.63" width="7.55" height="7.68" fill="#ffded7"/>
<rect x="133.24" y="232.63" width="7.55" height="7.68" fill="#a5bdf4"/>
<rect x="139.78" y="232.63" width="7.55" height="7.68" fill="#e6edfc"/>
<rect x="146.33" y="232.63" width="7.55" height="7.68" fill="#f9fafe"/>
<rect x="152.88" y="232.63" width="7.55" height="7.68" fill="#ffe8e2"/>
<rect x="159.43" y="232.63" width="7.55" height="7.68" fill="#ffc2b6"/>
<rect x="165.98" y="232.63" width="7.55" height="7.68" fill="#ffe3dd"/>
<rect x="172.53" y="232.63" width="7.55" height="7.68" fill="#ffd0c7"/>
<rect x="179.08" y="232.63" width="7.55" height="7.68" fill="#ffd0c7"/>
<rect x="185.63" y="232.63" width="7.55" height="7.68" fill="#f9fafe"/>
<rect x="192.18" y="232.63" width="7.55" height="7.68" fill="#ffd5cc"/>
<rect x="198.73" y="232.63" width="7.55" height="7.68" fill="#ffe8e2"/>
<rect x="205.27" y="232.63" width="7.55" height="7.68" fill="#e0e8fb"/>
<rect x="211.82" y="232.63" width="7.55" height="7.68" fill="#fffaf9"/>
<rect x="218.37" y="232.63" width="7.55" height="7.68" fill="#ffded7"/>
<rect x="224.92" y="232.63" width="7.55" height="7.68" fill="#ffffff"/>
<rect x="231.47" y="232.63" width="7.55" height="7.68" fill="#fffaf9"/>
<rect x="238.02" y="232.63" width="7.55" height="7.68" fill="#ffffff"/>
<rect x="244.57" y="232.63" width="7.55" height="7.68" fill="#ecf1fd"/>
<rect x="251.12" y="232.63" width="7.55" height="7.68" fill="#ffb3a6"/>
<rect x="257.67" y="232.63" width="7.55" height="7.68" fill="#ffece8"/>
<rect x="264.22" y="232.63" width="7.55" height="7.68" fill="#e6edfc"/>
<rect x="270.76" y="232.63" width="7.55" height="7.68" fill="#ffd0c7"/>
<rect x="277.31" y="232.63" width="7.55" height="7.68" fill="#e6edfc"/>
<rect x="283.86" y="232.63" width="7.55" height="7.68" fill="#ffece8"/>
<rect x="290.41" y="232.63" width="7.55" height="7.68" fill="#fff1ee"/>
<rect x="296.96" y="232.63" width="7.55" height="7.68" fill="#e6edfc"/>
<rect x="303.51" y="232.63" width="7.55" height="7.68" fill="#ffd9d2"/>
<rect x="310.06" y="232.63" width="7.55" height="7.68" fill="#fff1ee"/>
<rect x="316.61" y="232.63" width="7.55" height="7.68" fill="#ffe3dd"/>
<rect x="323.16" y="232.63" width="7.55" height="7.68" fill="#ffc2b6"/>
<rect x="329.71" y="232.63" width="7.55" height="7.68" fill="#ffbdb1"/>
<rect x="336.25" y="232.63" width="7.55" height="7.68" fill="#ffded7"/>
<rect x="342.80" y="232.63" width="7.55" height="7.68" fill="#ffded7"/>
<rect x="349.35" y="232.63" width="7.55" height="7.68" fill="#f9fafe"/>
<rect x="355.90" y="232.63" width="7.55" height="7.68" fill="#ffd0c7"/>
<rect x="362.45" y="232.63" width="6.55" height="7.68" fill="#c0d1f7"/>
<rect x="35.00" y="239.32" width="7.55" height="7.68" fill="#f2f6fd"/>
<rect x="41.55" y="239.32" width="7.55" height="7.68" fill="#c6d5f8"/>
<rect x="48.10" y="239.32" width="7.55" height="7.68" fill="#d9e3fa"/>
<rect x="54.65" y="239.32" width="7.55" height="7.68" fill="#f2f6fd"/>
<rect x="61.20" y="239.32" width="7.55" height="7.68" fill="#b3c8f6"/>
<rect x="67.75" y="239.32" width="7.55" height="7.68" fill="#d3dffa"/>
<rect x="74.29" y="239.32" width="7.55" height="7.68" fill="#d9e3fa"/>
<rect x="80.84" y="239.32" width="7.55" height="7.68" fill="#f9fafe"/>
<rect x="87.39" y="239.32" width="7.55" height="7.68" fill="#f9fafe"/>
<rect x="93.94" y="239.32" width="7.55" height="7.68" fill="#e0e8fb"/>
<rect x="100.49" y="239.32" width="7.55" height="7.68" fill="#c0d1f7"/>
<rect x="107.04" y="239.32" width="7.55" height="7.68" fill="#ffe3dd"/>
<rect x="113.59" y="239.32" width="7.55" height="7.68" fill="#ecf1fd"/>
<rect x="120.14" y="239.32" width="7.55" height="7.68" fill="#c6d5f8"/>
<rect x="126.69" y="239.32" width="7.55" height="7.68" fill="#ffd0c7"/>
<rect x="133.24" y="239.32" width="7.55" height="7.68" fill="#d9e3fa"/>
<rect x="139.78" y="239.32" width="7.55" height="7.68" fill="#e0e8fb"/>
<rect x="146.33" y="239.32" width="7.55" height="7.68" fill="#ffffff"/>
<rect x="152.88" y="239.32" width="7.55" height="7.68" fill="#ff9686"/>
<rect x="159.43" y="239.32" width="7.55" height="7.68" fill="#ffded7"/>
<rect x="165.98" y="239.32" width="7.55" height="7.68" fill="#ffded7"/>
<rect x="172.53" y="239.32" width="7.55" height="7.68" fill="#ff8b7c"/>
<rect x="179.08" y="239.32" width="7.55" height="7.68" fill="#ffe3dd"/>
<rect x="185.63" y="239.32" width="7.55" height="7.68" fill="#f2f6fd"/>
<rect x="192.18" y="239.32" width="7.55" height="7.68" fill="#ffbdb1"/>
<rect x="198.73" y="239.32" width="7.55" height="7.68" fill="#ffd5cc"/>
<rect x="205.27" y="239.32" width="7.55" height="7.68" fill="#e6edfc"/>
<rect x="211.82" y="239.32" width="7.55" height="7.68" fill="#fffaf9"/>
<rect x="218.37" y="239.32" width="7.55" height="7.68" fill="#fff1ee"/>
<rect x="224.92" y="239.32" width="7.55" height="7.68" fill="#ecf1fd"/>
<rect x="231.47" y="239.32" width="7.55" height="7.68" fill="#e6edfc"/>
<rect x="238.02" y="239.32" width="7.55" height="7.68" fill="#e6edfc"/>
<rect x="244.57" y="239.32" width="7.55" height="7.68" fill="#e0e8fb"/>
<rect x="251.12" y="239.32" width="7.55" height="7.68" fill="#f9fafe"/>
<rect x="257.67" y="239.32" width="7.55" height="7.68" fill="#ffc6bc"/>
<rect x="264.22" y="239.32" width="7.55" height="7.68" fill="#ffffff"/>
<rect x="270.76" y="239.32" width="7.55" height="7.68" fill="#ffd0c7"/>
<rect x="277.31" y="239.32" width="7.55" height="7.68" fill="#ecf1fd"/>
<rect x="283.86" y="239.32" width="7.55" height="7.68" fill="#fffaf9"/>
<rect x="290.41" y="239.32" width="7.55" height="7.68" fill="#ffe8e2"/>
<rect x="296.96" y="239.32" width="7.55" height="7.68" fill="#e0e8fb"/>
<rect x="303.51" y="239.32" width="7.55" height="7.68" fill="#ffd0c7"/>
<rect x="310.06" y="239.32" width="7.55" height="7.68" fill="#ffe3dd"/>
<rect x="316.61" y="239.32" width="7.55" height="7.68" fill="#ffd0c7"/>
<rect x="323.16" y="239.32" width="7.55" height="7.68" fill="#ffded7"/>
<rect x="329.71" y="239.32" width="7.55" height="7.68" fill="#f9fafe"/>
<rect x="336.25" y="239.32" width="7.55" height="7.68" fill="#ffbdb1"/>
<rect x="342.80" y="239.32" width="7.55" height="7.68" fill="#fffaf9"/>
<rect x="349.35" y="239.32" width="7.55" height="7.68" fill="#c6d5f8"/>
<rect x="355.90" y="239.32" width="7.55" height="7.68" fill="#ffe3dd"/>
<rect x="362.45" y="239.32" width="6.55" height="7.68" fill="#e0e8fb"/>
<rect x="35.00" y="246.00" width="7.55" height="7.68" fill="#d9e3fa"/>
<rect x="41.55" y="246.00" width="7.55" height="7.68" fill="#cddaf9"/>
<rect x="48.10" y="246.00" width="7.55" height="7.68" fill="#cddaf9"/>
<rect x="54.65" y="246.00" width="7.55" height="7.68" fill="#cddaf9"/>
<rect x="61.20" y="246.00" width="7.55" height="7.68" fill="#cddaf9"/>
<rect x="67.75" y="246.00" width="7.55" height="7.68" fill="#cddaf9"/>
<rect x="74.29" y="246.00" width="7.55" height="7.68" fill="#f9fafe"/>
<rect x="80.84" y="246.00" width="7.55" height="7.68" fill="#d9e3fa"/>
<rect x="87.39" y="246.00" width="7.55" height="7.68" fill="#baccf6"/>
<rect x="93.94" y="246.00" width="7.55" height="7.68" fill="#e0e8fb"/>
<rect x="100.49" y="246.00" width="7.55" height="7.68" fill="#d3dffa"/>
<rect x="107.04" y="246.00" width="7.55" height="7.68" fill="#f2f6fd"/>
<rect x="113.59" y="246.00" width="7.55" height="7.68" fill="#cddaf9"/>
<rect x="120.14" y="246.00" width="7.55" height="7.68" fill="#fff6f4"/>
<rect x="126.69" y="246.00" width="7.55" height="7.68" fill="#ffe3dd"/>
<rect x="133.24" y="246.00" width="7.55" height="7.68" fill="#c0d1f7"/>
<rect x="139.78" y="246.00" width="7.55" height="7.68" fill="#f2f6fd"/>
<rect x="146.33" y="246.00" width="7.55" height="7.68" fill="#e6edfc"/>
<rect x="152.88" y="246.00" width="7.55" height="7.68" fill="#ffb8ab"/>
<rect x="159.43" y="246.00" width="7.55" height="7.68" fill="#ffe3dd"/>
<rect x="165.98" y="246.00" width="7.55" height="7.68" fill="#ffe8e2"/>
<rect x="172.53" y="246.00" width="7.55" height="7.68" fill="#fff1ee"/>
<rect x="179.08" y="246.00" width="7.55" height="7.68" fill="#fff6f4"/>
<rect x="185.63" y="246.00" width="7.55" height="7.68" fill="#c6d5f8"/>
<rect x="192.18" y="246.00" width="7.55" height="7.68" fill="#fffaf9"/>
<rect x="198.73" y="246.00" width="7.55" height="7.68" fill="#e6edfc"/>
<rect x="205.27" y="246.00" width="7.55" height="7.68" fill="#e0e8fb"/>
<rect x="211.82" y="246.00" width="7.55" height="7.68" fill="#ffc2b6"/>
<rect x="218.37" y="246.00" width="7.55" height="7.68" fill="#f9fafe"/>
<rect x="224.92" y="246.00" width="7.55" height="7.68" fill="#e6edfc"/>
<rect x="231.47" y="246.00" width="7.55" height="7.68" fill="#ecf1fd"/>
<rect x="238.02" y="246.00" width="7.55" height="7.68" fill="#ffded7"/>
<rect x="244.57" y="246.00" width="7.55" height="7.68" fill="#ffded7"/>
<rect x="251.12" y="246.00" width="7.55" height="7.68" fill="#ffffff"/>
<rect x="257.67" y="246.00" width="7.55" height="7.68" fill="#ffece8"/>
<rect x="264.22" y="246.00" width="7.55" height="7.68" fill="#fff6f4"/>
<rect x="270.76" y="246.00" width="7.55" height="7.68" fill="#ffe8e2"/>
<rect x="277.31" y="246.00" width="7.55" height="7.68" fill="#ffffff"/>
<rect x="283.86" y="246.00" width="7.55" height="7.68" fill="#ffd0c7"/>
<rect x="290.41" y="246.00" width="7.55" height="7.68" fill="#ffece8"/>
<rect x="296.96" y="246.00" width="7.55" height="7.68" fill="#ffe3dd"/>
<rect x="303.51" y="246.00" width="7.55" height="7.68" fill="#ffbdb1"/>
<rect x="310.06" y="246.00" width="7.55" height="7.68" fill="#ffd9d2"/>
<rect x="316.61" y="246.00" width="7.55" height="7.68" fill="#ffd9d2"/>
<rect x="323.16" y="246.00" width="7.55" height="7.68" fill="#ffe8e2"/>
<rect x="329.71" y="246.00" width="7.55" height="7.68" fill="#ffe8e2"/>
<rect x="336.25" y="246.00" width="7.55" height="7.68" fill="#ffd5cc"/>
<rect x="342.80" y="246.00" width="7.55" height="7.68" fill="#fffaf9"/>
<rect x="349.35" y="246.00" width="7.55" height="7.68" fill="#ff9686"/>
<rect x="355.90" y="246.00" width="7.55" height="7.68" fill="#ffece8"/>
<rect x="362.45" y="246.00" width="6.55" height="7.68" fill="#ffd0c7"/>
<rect x="35.00" y="252.68" width="7.55" height="7.68" fill="#b0c5f5"/>
<rect x="41.55" y="252.68" width="7.55" height="7.68" fill="#f2f6fd"/>
<rect x="48.10" y="252.68" width="7.55" height="7.68" fill="#c6d5f8"/>
<rect x="54.65" y="252.68" width="7.55" height="7.68" fill="#d9e3fa"/>
<rect x="61.20" y="252.68" width="7.55" height="7.68" fill="#e0e8fb"/>
<rect x="67.75" y="252.68" width="7.55" height="7.68" fill="#ffffff"/>
<rect x="74.29" y="252.68" width="7.55" height="7.68" fill="#c6d5f8"/>
<rect x="80.84" y="252.68" width="7.55" height="7.68" fill="#fff1ee"/>
<rect x="87.39" y="252.68" width="7.55" height="7.68" fill="#d3dffa"/>
<rect x="93.94" y="252.68" width="7.55" height="7.68" fill="#e0e8fb"/>
<rect x="100.49" y="252.68" width="7.55" height="7.68" fill="#fff6f4"/>
<rect x="107.04" y="252.68" width="7.55" height="7.68" fill="#ffffff"/>
<rect x="113.59" y="252.68" width="7.55" height="7.68" fill="#fffaf9"/>
<rect x="120.14" y="252.68" width="7.55" height="7.68" fill="#e6edfc"/>
<rect x="126.69" y="252.68" width="7.55" height="7.68" fill="#ffffff"/>
<rect x="133.24" y="252.68" width="7.55" height="7.68" fill="#baccf6"/>
<rect x="139.78" y="252.68" width="7.55" height="7.68" fill="#d9e3fa"/>
<rect x="146.33" y="252.68" width="7.55" height="7.68" fill="#cddaf9"/>
<rect x="152.88" y="252.68" width="7.55" height="7.68" fill="#ecf1fd"/>
<rect x="159.43" y="252.68" width="7.55" height="7.68" fill="#ffe8e2"/>
<rect x="165.98" y="252.68" width="7.55" height="7.68" fill="#fffaf9"/>
<rect x="172.53" y="252.68" width="7.55" height="7.68" fill="#ffe8e2"/>
<rect x="179.08" y="252.68" width="7.55" height="7.68" fill="#ffd9d2"/>
<rect x="185.63" y="252.68" width="7.55" height="7.68" fill="#fff1ee"/>
<rect x="192.18" y="252.68" width="7.55" height="7.68" fill="#ffd0c7"/>
<rect x="198.73" y="252.68" width="7.55" height="7.68" fill="#ffece8"/>
<rect x="205.27" y="252.68" width="7.55" height="7.68" fill="#c6d5f8"/>
<rect x="211.82" y="252.68" width="7.55" height="7.68" fill="#ffe8e2"/>
<rect x="218.37" y="252.68" width="7.55" height="7.68" fill="#ffded7"/>
<rect x="224.92" y="252.68" width="7.55" height="7.68" fill="#ecf1fd"/>
<rect x="231.47" y="252.68" width="7.55" height="7.68" fill="#ecf1fd"/>
<rect x="238.02" y="252.68" width="7.55" height="7.68" fill="#cddaf9"/>
<rect x="244.57" y="252.68" width="7.55" height="7.68" fill="#ffffff"/>
<rect x="251.12" y="252.68" width="7.55" height="7.68" fill="#ffd0c7"/>
<rect x="257.67" y="252.68" width="7.55" height="7.68" fill="#ffc6bc"/>
<rect x="264.22" y="252.68" width="7.55" height="7.68" fill="#ecf1fd"/>
<rect x="270.76" y="252.68" width="7.55" height="7.68" fill="#ffbdb1"/>
<rect x="277.31" y="252.68" width="7.55" height="7.68" fill="#fff6f4"/>
<rect x="283.86" y="252.68" width="7.55" height="7.68" fill="#fff1ee"/>
<rect x="290.41" y="252.68" width="7.55" height="7.68" fill="#fff1ee"/>
<rect x="296.96" y="252.68" width="7.55" height="7.68" fill="#e6edfc"/>
<rect x="303.51" y="252.68" width="7.55" height="7.68" fill="#ffb8ab"/>
<rect x="310.06" y="252.68" width="7.55" height="7.68" fill="#ffbdb1"/>
<rect x="316.61" y="252.68" width="7.55" height="7.68" fill="#fff6f4"/>
<rect x="323.16" y="252.68" width="7.55" height="7.68" fill="#ff9686"/>
<rect x="329.71" y="252.68" width="7.55" height="7.68" fill="#ffffff"/>
<rect x="336.25" y="252.68" width="7.55" height="7.68" fill="#ffe8e2"/>
<rect x="342.80" y="252.68" width="7.55" height="7.68" fill="#ffded7"/>
<rect x="349.35" y="252.68" width="7.55" height="7.68" fill="#ecf1fd"/>
<rect x="355.90" y="252.68" width="7.55" height="7.68" fill="#fff6f4"/>
<rect x="362.45" y="252.68" width="6.55" height="7.68" fill="#ecf1fd"/>
<rect x="35.00" y="259.37" width="7.55" height="6.68" fill="#e0e8fb"/>
<rect x="41.55" y="259.37" width="7.55" height="6.68" fill="#ffaea1"/>
<rect x="48.10" y="259.37" width="7.55" height="6.68" fill="#ffffff"/>
<rect x="54.65" y="259.37" width="7.55" height="6.68" fill="#fff6f4"/>
<rect x="61.20" y="259.37" width="7.55" height="6.68" fill="#e6edfc"/>
<rect x="67.75" y="259.37" width="7.55" height="6.68" fill="#fff1ee"/>
<rect x="74.29" y="259.37" width="7.55" height="6.68" fill="#ecf1fd"/>
<rect x="80.84" y="259.37" width="7.55" height="6.68" fill="#ecf1fd"/>
<rect x="87.39" y="259.37" width="7.55" height="6.68" fill="#ffc2b6"/>
<rect x="93.94" y="259.37" width="7.55" height="6.68" fill="#e6edfc"/>
<rect x="100.49" y="259.37" width="7.55" height="6.68" fill="#fff1ee"/>
<rect x="107.04" y="259.37" width="7.55" height="6.68" fill="#e6edfc"/>
<rect x="113.59" y="259.37" width="7.55" height="6.68" fill="#fffaf9"/>
<rect x="120.14" y="259.37" width="7.55" height="6.68" fill="#e6edfc"/>
<rect x="126.69" y="259.37" width="7.55" height="6.68" fill="#f9fafe"/>
<rect x="133.24" y="259.37" width="7.55" height="6.68" fill="#cddaf9"/>
<rect x="139.78" y="259.37" width="7.55" height="6.68" fill="#fff1ee"/>
<rect x="146.33" y="259.37" width="7.55" height="6.68" fill="#c0d1f7"/>
<rect x="152.88" y="259.37" width="7.55" height="6.68" fill="#fff1ee"/>
<rect x="159.43" y="259.37" width="7.55" height="6.68" fill="#ffb8ab"/>
<rect x="165.98" y="259.37" width="7.55" height="6.68" fill="#fffaf9"/>
<rect x="172.53" y="259.37" width="7.55" height="6.68" fill="#e6edfc"/>
<rect x="179.08" y="259.37" width="7.55" height="6.68" fill="#fff6f4"/>
<rect x="185.63" y="259.37" width="7.55" height="6.68" fill="#c6d5f8"/>
<rect x="192.18" y="259.37" width="7.55" height="6.68" fill="#ffe3dd"/>
<rect x="198.73" y="259.37" width="7.55" height="6.68" fill="#e6edfc"/>
<rect x="205.27" y="259.37" width="7.55" height="6.68" fill="#e6edfc"/>
<rect x="211.82" y="259.37" width="7.55" height="6.68" fill="#ecf1fd"/>
<rect x="218.37" y="259.37" width="7.55" height="6.68" fill="#e0e8fb"/>
<rect x="224.92" y="259.37" width="7.55" height="6.68" fill="#ecf1fd"/>
<rect x="231.47" y="259.37" width="7.55" height="6.68" fill="#fff6f4"/>
<rect x="238.02" y="259.37" width="7.55" height="6.68" fill="#e6edfc"/>
<rect x="244.57" y="259.37" width="7.55" height="6.68" fill="#ffb8ab"/>
<rect x="251.12" y="259.37" width="7.55" height="6.68" fill="#ffc6bc"/>
<rect x="257.67" y="259.37" width="7.55" height="6.68" fill="#ffd0c7"/>
<rect x="264.22" y="259.37" width="7.55" height="6.68" fill="#ffa091"/>
<rect x="270.76" y="259.37" width="7.55" height="6.68" fill="#ecf1fd"/>
<rect x="277.31" y="259.37" width="7.55" height="6.68" fill="#c0d1f7"/>
<rect x="283.86" y="259.37" width="7.55" height="6.68" fill="#c0d1f7"/>
<rect x="290.41" y="259.37" width="7.55" height="6.68" fill="#ffd9d2"/>
<rect x="296.96" y="259.37" width="7.55" height="6.68" fill="#e6edfc"/>
<rect x="303.51" y="259.37" width="7.55" height="6.68" fill="#fff6f4"/>
<rect x="310.06" y="259.37" width="7.55" height="6.68" fill="#d9e3fa"/>
<rect x="316.61" y="259.37" width="7.55" height="6.68" fill="#e0e8fb"/>
<rect x="323.16" y="259.37" width="7.55" height="6.68" fill="#fff1ee"/>
<rect x="329.71" y="259.37" width="7.55" height="6.68" fill="#ffffff"/>
<rect x="336.25" y="259.37" width="7.55" height="6.68" fill="#e6edfc"/>
<rect x="342.80" y="259.37" width="7.55" height="6.68" fill="#e6edfc"/>
<rect x="349.35" y="259.37" width="7.55" height="6.68" fill="#f9fafe"/>
<rect x="355.90" y="259.37" width="7.55" height="6.68" fill="#e6edfc"/>
<rect x="362.45" y="259.37" width="6.55" height="6.68" fill="#ffa091"/>
<rect x="35.00" y="6.90" width="33.75" height="5.00" fill="#000000"/>
<rect x="67.75" y="6.90" width="14.10" height="5.00" fill="#3a923a"/>
<rect x="80.84" y="6.90" width="20.65" height="5.00" fill="#000000"/>
<rect x="100.49" y="6.90" width="7.55" height="5.00" fill="#3a923a"/>
<rect x="107.04" y="6.90" width="7.55" height="5.00" fill="#7bc87b"/>
<rect x="113.59" y="6.90" width="7.55" height="5.00" fill="#000000"/>
<rect x="120.14" y="6.90" width="7.55" height="5.00" fill="#3a923a"/>
<rect x="126.69" y="6.90" width="7.55" height="5.00" fill="#7bc87b"/>
<rect x="133.24" y="6.90" width="7.55" height="5.00" fill="#000000"/>
<rect x="139.78" y="6.90" width="7.55" height="5.00" fill="#3a923a"/>
<rect x="146.33" y="6.90" width="7.55" height="5.00" fill="#000000"/>
<rect x="152.88" y="6.90" width="27.20" height="5.00" fill="#7bc87b"/>
<rect x="179.08" y="6.90" width="7.55" height="5.00" fill="#3a923a"/>
<rect x="185.63" y="6.90" width="7.55" height="5.00" fill="#000000"/>
<rect x="192.18" y="6.90" width="14.10" height="5.00" fill="#7bc87b"/>
<rect x="205.27" y="6.90" width="7.55" height="5.00" fill="#000000"/>
<rect x="211.82" y="6.90" width="7.55" height="5.00" fill="#7bc87b"/>
<rect x="218.37" y="6.90" width="7.55" height="5.00" fill="#3a923a"/>
<rect x="224.92" y="6.90" width="7.55" height="5.00" fill="#000000"/>
<rect x="231.47" y="6.90" width="7.55" height="5.00" fill="#7bc87b"/>
<rect x="238.02" y="6.90" width="7.55" height="5.00" fill="#3a923a"/>
<rect x="244.57" y="6.90" width="7.55" height="5.00" fill="#7bc87b"/>
<rect x="251.12" y="6.90" width="20.65" height="5.00" fill="#3a923a"/>
<rect x="270.76" y="6.90" width="7.55" height="5.00" fill="#7bc87b"/>
<rect x="277.31" y="6.90" width="14.10" height="5.00" fill="#3a923a"/>
<rect x="290.41" y="6.90" width="7.55" height="5.00" fill="#7bc87b"/>
<rect x="296.96" y="6.90" width="27.20" height="5.00" fill="#3a923a"/>
<rect x="323.16" y="6.90" width="14.10" height="5.00" fill="#7bc87b"/>
<rect x="336.25" y="6.90" width="20.65" height="5.00" fill="#3a923a"/>
<rect x="355.90" y="6.90" width="7.55" height="5.00" fill="#7bc87b"/>
<rect x="362.45" y="6.90" width="6.55" height="5.00" fill="#3a923a"/>
<rect x="35.00" y="12.47" width="243.31" height="4.55" fill="#808080"/>
<rect x="277.31" y="12.47" width="91.69" height="4.55" fill="#000080"/>
<rect x="35.00" y="18.04" width="7.55" height="4.75" fill="#a0a0a0"/>
<rect x="41.55" y="18.04" width="7.55" height="4.75" fill="#e6e6e6"/>
<rect x="48.10" y="18.04" width="20.65" height="4.75" fill="#a0a0a0"/>
<rect x="67.75" y="18.04" width="7.55" height="4.75" fill="#e6e6e6"/>
<rect x="74.29" y="18.04" width="33.75" height="4.75" fill="#a0a0a0"/>
<rect x="107.04" y="18.04" width="7.55" height="4.75" fill="#e6e6e6"/>
<rect x="113.59" y="18.04" width="14.10" height="4.75" fill="#a0a0a0"/>
<rect x="126.69" y="18.04" width="7.55" height="4.75" fill="#e6e6e6"/>
<rect x="133.24" y="18.04" width="7.55" height="4.75" fill="#a0a0a0"/>
<rect x="139.78" y="18.04" width="7.55" height="4.75" fill="#e6e6e6"/>
<rect x="146.33" y="18.04" width="7.55" height="4.75" fill="#a0a0a0"/>
<rect x="152.88" y="18.04" width="14.10" height="4.75" fill="#e6e6e6"/>
<rect x="165.98" y="18.04" width="20.65" height="4.75" fill="#a0a0a0"/>
<rect x="185.63" y="18.04" width="33.75" height="4.75" fill="#e6e6e6"/>
<rect x="218.37" y="18.04" width="40.29" height="4.75" fill="#a0a0a0"/>
<rect x="257.67" y="18.04" width="86.14" height="4.75" fill="#e6e6e6"/>
<rect x="342.80" y="18.04" width="7.55" height="4.75" fill="#a0a0a0"/>
<rect x="349.35" y="18.04" width="19.65" height="4.75" fill="#e6e6e6"/>
<rect x="35.00" y="23.61" width="14.10" height="4.75" fill="#a0a0a0"/>
<rect x="48.10" y="23.61" width="14.10" height="4.75" fill="#e6e6e6"/>
<rect x="61.20" y="23.61" width="7.55" height="4.75" fill="#a0a0a0"/>
<rect x="67.75" y="23.61" width="7.55" height="4.75" fill="#e6e6e6"/>
<rect x="74.29" y="23.61" width="7.55" height="4.75" fill="#a0a0a0"/>
<rect x="80.84" y="23.61" width="7.55" height="4.75" fill="#e6e6e6"/>
<rect x="87.39" y="23.61" width="14.10" height="4.75" fill="#a0a0a0"/>
<rect x="100.49" y="23.61" width="7.55" height="4.75" fill="#e6e6e6"/>
<rect x="107.04" y="23.61" width="14.10" height="4.75" fill="#a0a0a0"/>
<rect x="120.14" y="23.61" width="46.84" height="4.75" fill="#e6e6e6"/>
<rect x="165.98" y="23.61" width="7.55" height="4.75" fill="#a0a0a0"/>
<rect x="172.53" y="23.61" width="7.55" height="4.75" fill="#e6e6e6"/>
<rect x="179.08" y="23.61" width="20.65" height="4.75" fill="#a0a0a0"/>
<rect x="198.73" y="23.61" width="7.55" height="4.75" fill="#e6e6e6"/>
<rect x="205.27" y="23.61" width="14.10" height="4.75" fill="#a0a0a0"/>
<rect x="218.37" y="23.61" width="7.55" height="4.75" fill="#e6e6e6"/>
<rect x="224.92" y="23.61" width="27.20" height="4.75" fill="#a0a0a0"/>
<rect x="251.12" y="23.61" width="40.29" height="4.75" fill="#e6e6e6"/>
<rect x="290.41" y="23.61" width="7.55" height="4.75" fill="#a0a0a0"/>
<rect x="296.96" y="23.61" width="72.04" height="4.75" fill="#e6e6e6"/>
<rect x="35.00" y="29.18" width="14.10" height="4.75" fill="#a0a0a0"/>
<rect x="48.10" y="29.18" width="14.10" height="4.75" fill="#e6e6e6"/>
<rect x="61.20" y="29.18" width="7.55" height="4.75" fill="#a0a0a0"/>
<rect x="67.75" y="29.18" width="7.55" height="4.75" fill="#e6e6e6"/>
<rect x="74.29" y="29.18" width="7.55" height="4.75" fill="#a0a0a0"/>
<rect x="80.84" y="29.18" width="20.65" height="4.75" fill="#e6e6e6"/>
<rect x="100.49" y="29.18" width="14.10" height="4.75" fill="#a0a0a0"/>
<rect x="113.59" y="29.18" width="14.10" height="4.75" fill="#e6e6e6"/>
<rect x="126.69" y="29.18" width="14.10" height="4.75" fill="#a0a0a0"/>
<rect x="139.78" y="29.18" width="7.55" height="4.75" fill="#e6e6e6"/>
<rect x="146.33" y="29.18" width="7.55" height="4.75" fill="#a0a0a0"/>
<rect x="152.88" y="29.18" width="7.55" height="4.75" fill="#e6e6e6"/>
<rect x="159.43" y="29.18" width="7.55" height="4.75" fill="#a0a0a0"/>
<rect x="165.98" y="29.18" width="14.10" height="4.75" fill="#e6e6e6"/>
<rect x="179.08" y="29.18" width="14.10" height="4.75" fill="#a0a0a0"/>
<rect x="192.18" y="29.18" width="14.10" height="4.75" fill="#e6e6e6"/>
<rect x="205.27" y="29.18" width="7.55" height="4.75" fill="#a0a0a0"/>
<rect x="211.82" y="29.18" width="7.55" height="4.75" fill="#e6e6e6"/>
<rect x="218.37" y="29.18" width="14.10" height="4.75" fill="#a0a0a0"/>
<rect x="231.47" y="29.18" width="14.10" height="4.75" fill="#e6e6e6"/>
<rect x="244.57" y="29.18" width="7.55" height="4.75" fill="#a0a0a0"/>
<rect x="251.12" y="29.18" width="117.88" height="4.75" fill="#e6e6e6"/>
<rect x="35.00" y="34.75" width="7.55" height="4.75" fill="#e6e6e6"/>
<rect x="41.55" y="34.75" width="20.65" height="4.75" fill="#a0a0a0"/>
<rect x="61.20" y="34.75" width="7.55" height="4.75" fill="#e6e6e6"/>
<rect x="67.75" y="34.75" width="7.55" height="4.75" fill="#a0a0a0"/>
<rect x="74.29" y="34.75" width="7.55" height="4.75" fill="#e6e6e6"/>
<rect x="80.84" y="34.75" width="27.20" height="4.75" fill="#a0a0a0"/>
<rect x="107.04" y="34.75" width="14.10" height="4.75" fill="#e6e6e6"/>
<rect x="120.14" y="34.75" width="7.55" height="4.75" fill="#a0a0a0"/>
<rect x="126.69" y="34.75" width="7.55" height="4.75" fill="#e6e6e6"/>
<rect x="133.24" y="34.75" width="7.55" height="4.75" fill="#a0a0a0"/>
<rect x="139.78" y="34.75" width="7.55" height="4.75" fill="#e6e6e6"/>
<rect x="146.33" y="34.75" width="7.55" height="4.75" fill="#a0a0a0"/>
<rect x="152.88" y="34.75" width="14.10" height="4.75" fill="#e6e6e6"/>
<rect x="165.98" y="34.75" width="14.10" height="4.75" fill="#a0a0a0"/>
<rect x="179.08" y="34.75" width="27.20" height="4.75" fill="#e6e6e6"/>
<rect x="205.27" y="34.75" width="7.55" height="4.75" fill="#a0a0a0"/>
<rect x="211.82" y="34.75" width="7.55" height="4.75" fill="#e6e6e6"/>
<rect x="218.37" y="34.75" width="7.55" height="4.75" fill="#a0a0a0"/>
<rect x="224.92" y="34.75" width="144.08" height="4.75" fill="#e6e6e6"/>
<rect x="35.00" y="40.32" width="20.65" height="4.75" fill="#e6e6e6"/>
<rect x="54.65" y="40.32" width="7.55" height="4.75" fill="#a0a0a0"/>
<rect x="61.20" y="40.32" width="7.55" height="4.75" fill="#e6e6e6"/>
<rect x="67.75" y="40.32" width="7.55" height="4.75" fill="#a0a0a0"/>
<rect x="74.29" y="40.32" width="27.20" height="4.75" fill="#e6e6e6"/>
<rect x="100.49" y="40.32" width="7.55" height="4.75" fill="#a0a0a0"/>
<rect x="107.04" y="40.32" width="7.55" height="4.75" fill="#e6e6e6"/>
<rect x="113.59" y="40.32" width="7.55" height="4.75" fill="#a0a0a0"/>
<rect x="120.14" y="40.32" width="14.10" height="4.75" fill="#e6e6e6"/>
<rect x="133.24" y="40.32" width="27.20" height="4.75" fill="#a0a0a0"/>
<rect x="159.43" y="40.32" width="14.10" height="4.75" fill="#e6e6e6"/>
<rect x="172.53" y="40.32" width="7.55" height="4.75" fill="#a0a0a0"/>
<rect x="179.08" y="40.32" width="27.20" height="4.75" fill="#e6e6e6"/>
<rect x="205.27" y="40.32" width="7.55" height="4.75" fill="#a0a0a0"/>
<rect x="211.82" y="40.32" width="7.55" height="4.75" fill="#e6e6e6"/>
<rect x="218.37" y="40.32" width="27.20" height="4.75" fill="#a0a0a0"/>
<rect x="244.57" y="40.32" width="124.43" height="4.75" fill="#e6e6e6"/>
<rect x="35.00" y="45.89" width="33.75" height="4.75" fill="#e6e6e6"/>
<rect x="67.75" y="45.89" width="7.55" height="4.75" fill="#2f5fe0"/>
<rect x="74.29" y="45.89" width="7.55" height="4.75" fill="#e6e6e6"/>
<rect x="80.84" y="45.89" width="7.55" height="4.75" fill="#2f5fe0"/>
<rect x="87.39" y="45.89" width="46.84" height="4.75" fill="#e6e6e6"/>
<rect x="133.24" y="45.89" width="7.55" height="4.75" fill="#2f5fe0"/>
<rect x="139.78" y="45.89" width="66.49" height="4.75" fill="#e6e6e6"/>
<rect x="205.27" y="45.89" width="7.55" height="4.75" fill="#2f5fe0"/>
<rect x="211.82" y="45.89" width="20.65" height="4.75" fill="#e6e6e6"/>
<rect x="231.47" y="45.89" width="7.55" height="4.75" fill="#2f5fe0"/>
<rect x="238.02" y="45.89" width="40.29" height="4.75" fill="#e6e6e6"/>
<rect x="277.31" y="45.89" width="7.55" height="4.75" fill="#2f5fe0"/>
<rect x="283.86" y="45.89" width="14.10" height="4.75" fill="#e6e6e6"/>
<rect x="296.96" y="45.89" width="7.55" height="4.75" fill="#2f5fe0"/>
<rect x="303.51" y="45.89" width="14.10" height="4.75" fill="#e6e6e6"/>
<rect x="316.61" y="45.89" width="14.10" height="4.75" fill="#2f5fe0"/>
<rect x="329.71" y="45.89" width="7.55" height="4.75" fill="#e6e6e6"/>
<rect x="336.25" y="45.89" width="7.55" height="4.75" fill="#2f5fe0"/>
<rect x="342.80" y="45.89" width="7.55" height="4.75" fill="#e6e6e6"/>
<rect x="349.35" y="45.89" width="7.55" height="4.75" fill="#2f5fe0"/>
<rect x="355.90" y="45.89" width="7.55" height="4.75" fill="#e6e6e6"/>
<rect x="362.45" y="45.89" width="6.55" height="4.75" fill="#2f5fe0"/>
<rect x="35.00" y="51.46" width="14.10" height="4.75" fill="#e6e6e6"/>
<rect x="48.10" y="51.46" width="14.10" height="4.75" fill="#2f5fe0"/>
<rect x="61.20" y="51.46" width="33.75" height="4.75" fill="#e6e6e6"/>
<rect x="93.94" y="51.46" width="14.10" height="4.75" fill="#2f5fe0"/>
<rect x="107.04" y="51.46" width="184.37" height="4.75" fill="#e6e6e6"/>
<rect x="290.41" y="51.46" width="14.10" height="4.75" fill="#2f5fe0"/>
<rect x="303.51" y="51.46" width="7.55" height="4.75" fill="#e6e6e6"/>
<rect x="310.06" y="51.46" width="14.10" height="4.75" fill="#2f5fe0"/>
<rect x="323.16" y="51.46" width="40.29" height="4.75" fill="#e6e6e6"/>
<rect x="362.45" y="51.46" width="6.55" height="4.75" fill="#2f5fe0"/>
<rect x="35.00" y="57.03" width="262.96" height="4.75" fill="#e6e6e6"/>
<rect x="296.96" y="57.03" width="7.55" height="4.75" fill="#2f5fe0"/>
<rect x="303.51" y="57.03" width="14.10" height="4.75" fill="#e6e6e6"/>
<rect x="316.61" y="57.03" width="14.10" height="4.75" fill="#2f5fe0"/>
<rect x="329.71" y="57.03" width="33.75" height="4.75" fill="#e6e6e6"/>
<rect x="362.45" y="57.03" width="6.55" height="4.75" fill="#2f5fe0"/>
<rect x="24.85" y="63.00" width="8.05" height="160.60" fill="#d4bedb"/>
<rect x="24.85" y="225.95" width="8.05" height="40.10" fill="#7b3757"/>
<path d="M17.10 66.35L24.00 66.35 M17.10 73.04L24.00 73.04 M17.10 66.35L17.10 73.04 M16.80 69.69L17.10 69.69 M16.80 86.42L24.00 86.42 M16.80 69.69L16.80 86.42 M14.70 79.73L24.00 79.73 M14.70 78.06L16.80 78.06 M14.70 79.73L14.70 78.06 M19.00 93.11L24.00 93.11 M19.00 99.80L24.00 99.80 M19.00 93.11L19.00 99.80 M20.50 106.50L24.00 106.50 M20.50 113.19L24.00 113.19 M20.50 106.50L20.50 113.19 M19.40 119.88L24.00 119.88 M19.40 126.57L24.00 126.57 M19.40 119.88L19.40 126.57 M19.20 109.84L20.50 109.84 M19.20 123.22L19.40 123.22 M19.20 109.84L19.20 123.22 M16.70 96.46L19.00 96.46 M16.70 116.53L19.20 116.53 M16.70 96.46L16.70 116.53 M19.50 133.26L24.00 133.26 M19.50 139.95L24.00 139.95 M19.50 133.26L19.50 139.95 M16.30 106.50L16.70 106.50 M16.30 136.61L19.50 136.61 M16.30 106.50L16.30 136.61 M14.50 78.89L14.70 78.89 M14.50 121.55L16.30 121.55 M14.50 78.89L14.50 121.55 M20.50 153.34L24.00 153.34 M20.50 160.03L24.00 160.03 M20.50 153.34L20.50 160.03 M18.10 146.65L24.00 146.65 M18.10 156.68L20.50 156.68 M18.10 146.65L18.10 156.68 M18.50 173.41L24.00 173.41 M18.50 180.10L24.00 180.10 M18.50 173.41L18.50 180.10 M17.30 176.76L18.50 176.76 M17.30 186.80L24.00 186.80 M17.30 176.76L17.30 186.80 M16.20 166.72L24.00 166.72 M16.20 181.78L17.30 181.78 M16.20 166.72L16.20 181.78 M15.20 151.66L18.10 151.66 M15.20 174.25L16.20 174.25 M15.20 151.66L15.20 174.25 M17.00 193.49L24.00 193.49 M17.00 200.18L24.00 200.18 M17.00 193.49L17.00 200.18 M19.00 206.87L24.00 206.87 M19.00 213.56L24.00 213.56 M19.00 206.87L19.00 213.56 M17.50 210.22L19.00 210.22 M17.50 220.25L24.00 220.25 M17.50 210.22L17.50 220.25 M16.50 196.83L17.00 196.83 M16.50 215.24L17.50 215.24 M16.50 196.83L16.50 215.24 M14.60 162.96L15.20 162.96 M14.60 206.03L16.50 206.03 M14.60 162.96L14.60 206.03 M13.90 100.22L14.50 100.22 M13.90 184.50L14.60 184.50 M13.90 100.22L13.90 184.50 M18.50 229.29L24.00 229.29 M18.50 235.97L24.00 235.97 M18.50 229.29L18.50 235.97 M16.50 232.63L18.50 232.63 M16.50 242.66L24.00 242.66 M16.50 232.63L16.50 242.66 M17.50 249.34L24.00 249.34 M17.50 256.02L24.00 256.02 M17.50 249.34L17.50 256.02 M15.50 237.65L16.50 237.65 M15.50 252.68L17.50 252.68 M15.50 237.65L15.50 252.68 M14.30 245.16L15.50 245.16 M14.30 262.71L24.00 262.71 M14.30 245.16L14.30 262.71 M6.80 142.36L13.90 142.36 M6.80 253.94L14.30 253.94 M6.80 142.36L6.80 253.94" stroke="#333" stroke-width="0.85" fill="none" stroke-linecap="square"/>
<line x1="12.4" x2="12.4" y1="135" y2="246" stroke="#888" stroke-width="0.7" stroke-dasharray="1 1.2"/>
<rect x="418.00" y="125.60" width="6.10" height="5.50" fill="#7b3757"/>
<rect x="418.00" y="131.60" width="6.10" height="6.20" fill="#d4bedb"/>
<defs><linearGradient id="eg" x1="0" y1="0" x2="0" y2="1">
<stop offset="0.0000" stop-color="#fa192d"/>
<stop offset="0.0625" stop-color="#ff4b45"/>
<stop offset="0.1250" stop-color="#ff6b5d"/>
<stop offset="0.1875" stop-color="#ff8677"/>
<stop offset="0.2500" stop-color="#ffa091"/>
<stop offset="0.3125" stop-color="#ffb8ab"/>
<stop offset="0.3750" stop-color="#ffd0c7"/>
<stop offset="0.4375" stop-color="#ffe8e2"/>
<stop offset="0.5000" stop-color="#ffffff"/>
<stop offset="0.5625" stop-color="#e4eefc"/>
<stop offset="0.6250" stop-color="#c8ddfa"/>
<stop offset="0.6875" stop-color="#acccf8"/>
<stop offset="0.7500" stop-color="#91bcf5"/>
<stop offset="0.8125" stop-color="#76abf2"/>
<stop offset="0.8750" stop-color="#5a9af0"/>
<stop offset="0.9375" stop-color="#3e89ee"/>
<stop offset="1.0000" stop-color="#2378eb"/>
</linearGradient></defs>
<rect x="417.6" y="148.6" width="7.2" height="33.0" fill="url(#eg)"/>
<line x1="417.6" x2="419.2" y1="149.60" y2="149.60" stroke="#fff" stroke-width="0.7"/>
<line x1="423.2" x2="424.8" y1="149.60" y2="149.60" stroke="#fff" stroke-width="0.7"/>
<line x1="417.6" x2="419.2" y1="157.45" y2="157.45" stroke="#fff" stroke-width="0.7"/>
<line x1="423.2" x2="424.8" y1="157.45" y2="157.45" stroke="#fff" stroke-width="0.7"/>
<line x1="417.6" x2="419.2" y1="165.30" y2="165.30" stroke="#fff" stroke-width="0.7"/>
<line x1="423.2" x2="424.8" y1="165.30" y2="165.30" stroke="#fff" stroke-width="0.7"/>
<line x1="417.6" x2="419.2" y1="173.15" y2="173.15" stroke="#fff" stroke-width="0.7"/>
<line x1="423.2" x2="424.8" y1="173.15" y2="173.15" stroke="#fff" stroke-width="0.7"/>
<line x1="417.6" x2="419.2" y1="181.00" y2="181.00" stroke="#fff" stroke-width="0.7"/>
<line x1="423.2" x2="424.8" y1="181.00" y2="181.00" stroke="#fff" stroke-width="0.7"/>
<rect x="475.10" y="125.80" width="6.00" height="5.60" fill="#7bc87b"/>
<rect x="475.10" y="131.90" width="6.00" height="6.00" fill="#3a923a"/>
<rect x="475.10" y="138.40" width="6.00" height="6.10" fill="#000000"/>
<rect x="475.10" y="155.10" width="6.00" height="5.90" fill="#000080"/>
<rect x="475.10" y="161.40" width="6.00" height="6.20" fill="#808080"/>
<g class="tx">
<text x="372" y="20.41" font-size="5.60" fill="#111" stroke="#111" stroke-width="0.1" dominant-baseline="central">B2M mutation</text>
<text x="372" y="25.98" font-size="5.60" fill="#111" stroke="#111" stroke-width="0.1" dominant-baseline="central">GNA13 mutation</text>
<text x="372" y="31.55" font-size="5.60" fill="#111" stroke="#111" stroke-width="0.1" dominant-baseline="central">TNFAIP3 mutation</text>
<text x="372" y="37.12" font-size="5.60" fill="#111" stroke="#111" stroke-width="0.1" dominant-baseline="central">NFKBIE mutation</text>
<text x="372" y="42.70" font-size="5.60" fill="#111" stroke="#111" stroke-width="0.1" dominant-baseline="central">LRRN3 mutation</text>
<text x="372" y="48.27" font-size="5.60" fill="#111" stroke="#111" stroke-width="0.1" dominant-baseline="central">TP53 mutation</text>
<text x="372" y="53.84" font-size="5.60" fill="#111" stroke="#111" stroke-width="0.1" dominant-baseline="central">CREBBP mutation</text>
<text x="372" y="59.41" font-size="5.60" fill="#111" stroke="#111" stroke-width="0.1" dominant-baseline="central">BCL2 mutation</text>
<text x="372" y="66.35" font-size="5.95" fill="#111" stroke="#111" stroke-width="0.06" dominant-baseline="central" textLength="18.37" lengthAdjust="spacingAndGlyphs">QSOX1</text>
<text x="372" y="73.04" font-size="5.95" fill="#111" stroke="#111" stroke-width="0.06" dominant-baseline="central" textLength="16.59" lengthAdjust="spacingAndGlyphs">CCL17</text>
<text x="372" y="79.73" font-size="5.95" fill="#111" stroke="#111" stroke-width="0.06" dominant-baseline="central" textLength="17.47" lengthAdjust="spacingAndGlyphs">FSCN1</text>
<text x="372" y="86.42" font-size="5.95" fill="#111" stroke="#111" stroke-width="0.06" dominant-baseline="central" textLength="14.51" lengthAdjust="spacingAndGlyphs">TFPI2</text>
<text x="372" y="93.11" font-size="5.95" fill="#111" stroke="#111" stroke-width="0.06" dominant-baseline="central" textLength="10.96" lengthAdjust="spacingAndGlyphs">MAL</text>
<text x="372" y="99.80" font-size="5.95" fill="#111" stroke="#111" stroke-width="0.06" dominant-baseline="central" textLength="15.10" lengthAdjust="spacingAndGlyphs">RHOF</text>
<text x="372" y="106.50" font-size="5.95" fill="#111" stroke="#111" stroke-width="0.06" dominant-baseline="central" textLength="22.80" lengthAdjust="spacingAndGlyphs">HOMER2</text>
<text x="372" y="113.19" font-size="5.95" fill="#111" stroke="#111" stroke-width="0.06" dominant-baseline="central" textLength="18.95" lengthAdjust="spacingAndGlyphs">MOB3C</text>
<text x="372" y="119.88" font-size="5.95" fill="#111" stroke="#111" stroke-width="0.06" dominant-baseline="central" textLength="18.36" lengthAdjust="spacingAndGlyphs">CENPV</text>
<text x="372" y="126.57" font-size="5.95" fill="#111" stroke="#111" stroke-width="0.06" dominant-baseline="central" textLength="15.40" lengthAdjust="spacingAndGlyphs">LIMA1</text>
<text x="372" y="133.26" font-size="5.95" fill="#111" stroke="#111" stroke-width="0.06" dominant-baseline="central" textLength="16.29" lengthAdjust="spacingAndGlyphs">PTGIR</text>
<text x="372" y="139.95" font-size="5.95" fill="#111" stroke="#111" stroke-width="0.06" dominant-baseline="central" textLength="16.49" lengthAdjust="spacingAndGlyphs">SNX11</text>
<text x="372" y="146.65" font-size="5.95" fill="#111" stroke="#111" stroke-width="0.06" dominant-baseline="central" textLength="20.74" lengthAdjust="spacingAndGlyphs">IL13RA1</text>
<text x="372" y="153.34" font-size="5.95" fill="#111" stroke="#111" stroke-width="0.06" dominant-baseline="central" textLength="14.51" lengthAdjust="spacingAndGlyphs">NFIL3</text>
<text x="372" y="160.03" font-size="5.95" fill="#111" stroke="#111" stroke-width="0.06" dominant-baseline="central" textLength="11.25" lengthAdjust="spacingAndGlyphs">AUH</text>
<text x="372" y="166.72" font-size="5.95" fill="#111" stroke="#111" stroke-width="0.06" dominant-baseline="central" textLength="18.06" lengthAdjust="spacingAndGlyphs">MST1R</text>
<text x="372" y="173.41" font-size="5.95" fill="#111" stroke="#111" stroke-width="0.06" dominant-baseline="central" textLength="28.14" lengthAdjust="spacingAndGlyphs">PDCD1LG2</text>
<text x="372" y="180.10" font-size="5.95" fill="#111" stroke="#111" stroke-width="0.06" dominant-baseline="central" textLength="13.03" lengthAdjust="spacingAndGlyphs">IFIH1</text>
<text x="372" y="186.80" font-size="5.95" fill="#111" stroke="#111" stroke-width="0.06" dominant-baseline="central" textLength="21.33" lengthAdjust="spacingAndGlyphs">NECAP2</text>
<text x="372" y="193.49" font-size="5.95" fill="#111" stroke="#111" stroke-width="0.06" dominant-baseline="central" textLength="18.66" lengthAdjust="spacingAndGlyphs">TMOD1</text>
<text x="372" y="200.18" font-size="5.95" fill="#111" stroke="#111" stroke-width="0.06" dominant-baseline="central" textLength="13.63" lengthAdjust="spacingAndGlyphs">RCL1</text>
<text x="372" y="206.87" font-size="5.95" fill="#111" stroke="#111" stroke-width="0.06" dominant-baseline="central" textLength="16.19" lengthAdjust="spacingAndGlyphs">BATF3</text>
<text x="372" y="213.56" font-size="5.95" fill="#111" stroke="#111" stroke-width="0.06" dominant-baseline="central" textLength="16.88" lengthAdjust="spacingAndGlyphs">TRAF1</text>
<text x="372" y="220.25" font-size="5.95" fill="#111" stroke="#111" stroke-width="0.06" dominant-baseline="central" textLength="20.73" lengthAdjust="spacingAndGlyphs">SLAMF1</text>
<text x="372" y="229.29" font-size="5.95" fill="#111" stroke="#111" stroke-width="0.06" dominant-baseline="central" textLength="20.64" lengthAdjust="spacingAndGlyphs">CARD11</text>
<text x="372" y="235.97" font-size="5.95" fill="#111" stroke="#111" stroke-width="0.06" dominant-baseline="central" textLength="18.36" lengthAdjust="spacingAndGlyphs">PRKCB</text>
<text x="372" y="242.66" font-size="5.95" fill="#111" stroke="#111" stroke-width="0.06" dominant-baseline="central" textLength="25.48" lengthAdjust="spacingAndGlyphs">SHISAL2A</text>
<text x="372" y="249.34" font-size="5.95" fill="#111" stroke="#111" stroke-width="0.06" dominant-baseline="central" textLength="17.77" lengthAdjust="spacingAndGlyphs">PRDX2</text>
<text x="372" y="256.02" font-size="5.95" fill="#111" stroke="#111" stroke-width="0.06" dominant-baseline="central" textLength="17.48" lengthAdjust="spacingAndGlyphs">BANK1</text>
<text x="372" y="262.71" font-size="5.95" fill="#111" stroke="#111" stroke-width="0.06" dominant-baseline="central" textLength="13.92" lengthAdjust="spacingAndGlyphs">BTG2</text>
<text x="418.0" y="122.60" font-size="5.70" font-weight="bold" fill="#000" stroke="#000" stroke-width="0.12" textLength="48.6" lengthAdjust="spacingAndGlyphs">Lymph3Cx_feature</text>
<text x="428.0" y="130.50" font-size="5.90" fill="#333" stroke="#333" stroke-width="0.05" textLength="30.6" lengthAdjust="spacingAndGlyphs">DLBCL gene</text>
<text x="428.0" y="137.40" font-size="5.90" fill="#333" stroke="#333" stroke-width="0.05" textLength="31.7" lengthAdjust="spacingAndGlyphs">PMBCL gene</text>
<text x="418.0" y="145.70" font-size="5.70" font-weight="bold" fill="#000" stroke="#000" stroke-width="0.12" textLength="28.0" lengthAdjust="spacingAndGlyphs">Expression</text>
<text x="427.6" y="149.60" font-size="5.80" fill="#333" stroke="#333" stroke-width="0.05" dominant-baseline="central">4</text>
<text x="427.6" y="157.45" font-size="5.80" fill="#333" stroke="#333" stroke-width="0.05" dominant-baseline="central">2</text>
<text x="427.6" y="165.30" font-size="5.80" fill="#333" stroke="#333" stroke-width="0.05" dominant-baseline="central">0</text>
<text x="427.6" y="173.15" font-size="5.80" fill="#333" stroke="#333" stroke-width="0.05" dominant-baseline="central">−2</text>
<text x="427.6" y="181.00" font-size="5.80" fill="#333" stroke="#333" stroke-width="0.05" dominant-baseline="central">−4</text>
<text x="475.1" y="123.20" font-size="5.70" font-weight="bold" fill="#000" stroke="#000" stroke-width="0.12" textLength="32.3" lengthAdjust="spacingAndGlyphs">Class4Group</text>
<text x="484.7" y="130.90" font-size="5.90" fill="#333" stroke="#333" stroke-width="0.05">1</text>
<text x="484.7" y="137.20" font-size="5.90" fill="#333" stroke="#333" stroke-width="0.05">2</text>
<text x="484.7" y="143.80" font-size="5.90" fill="#333" stroke="#333" stroke-width="0.05" textLength="17.8" lengthAdjust="spacingAndGlyphs">PMBCL</text>
<text x="475.1" y="152.50" font-size="5.70" font-weight="bold" fill="#000" stroke="#000" stroke-width="0.12" textLength="34.3" lengthAdjust="spacingAndGlyphs">ThymicStatus</text>
<text x="484.7" y="160.00" font-size="5.90" fill="#333" stroke="#333" stroke-width="0.05" textLength="30.2" lengthAdjust="spacingAndGlyphs">Non−thymic</text>
<text x="484.7" y="166.60" font-size="5.90" fill="#333" stroke="#333" stroke-width="0.05" textLength="17.5" lengthAdjust="spacingAndGlyphs">Thymic</text>
</g>
<rect x="0" y="0" width="520" height="1.3" fill="#000"/>
<rect x="0" y="0" width="1.2" height="273" fill="#000"/>
<rect x="518.7" y="0" width="1.3" height="273" fill="#000"/>
<rect x="0" y="271.6" width="520" height="1.4" fill="#000"/>
</svg></body></html>
